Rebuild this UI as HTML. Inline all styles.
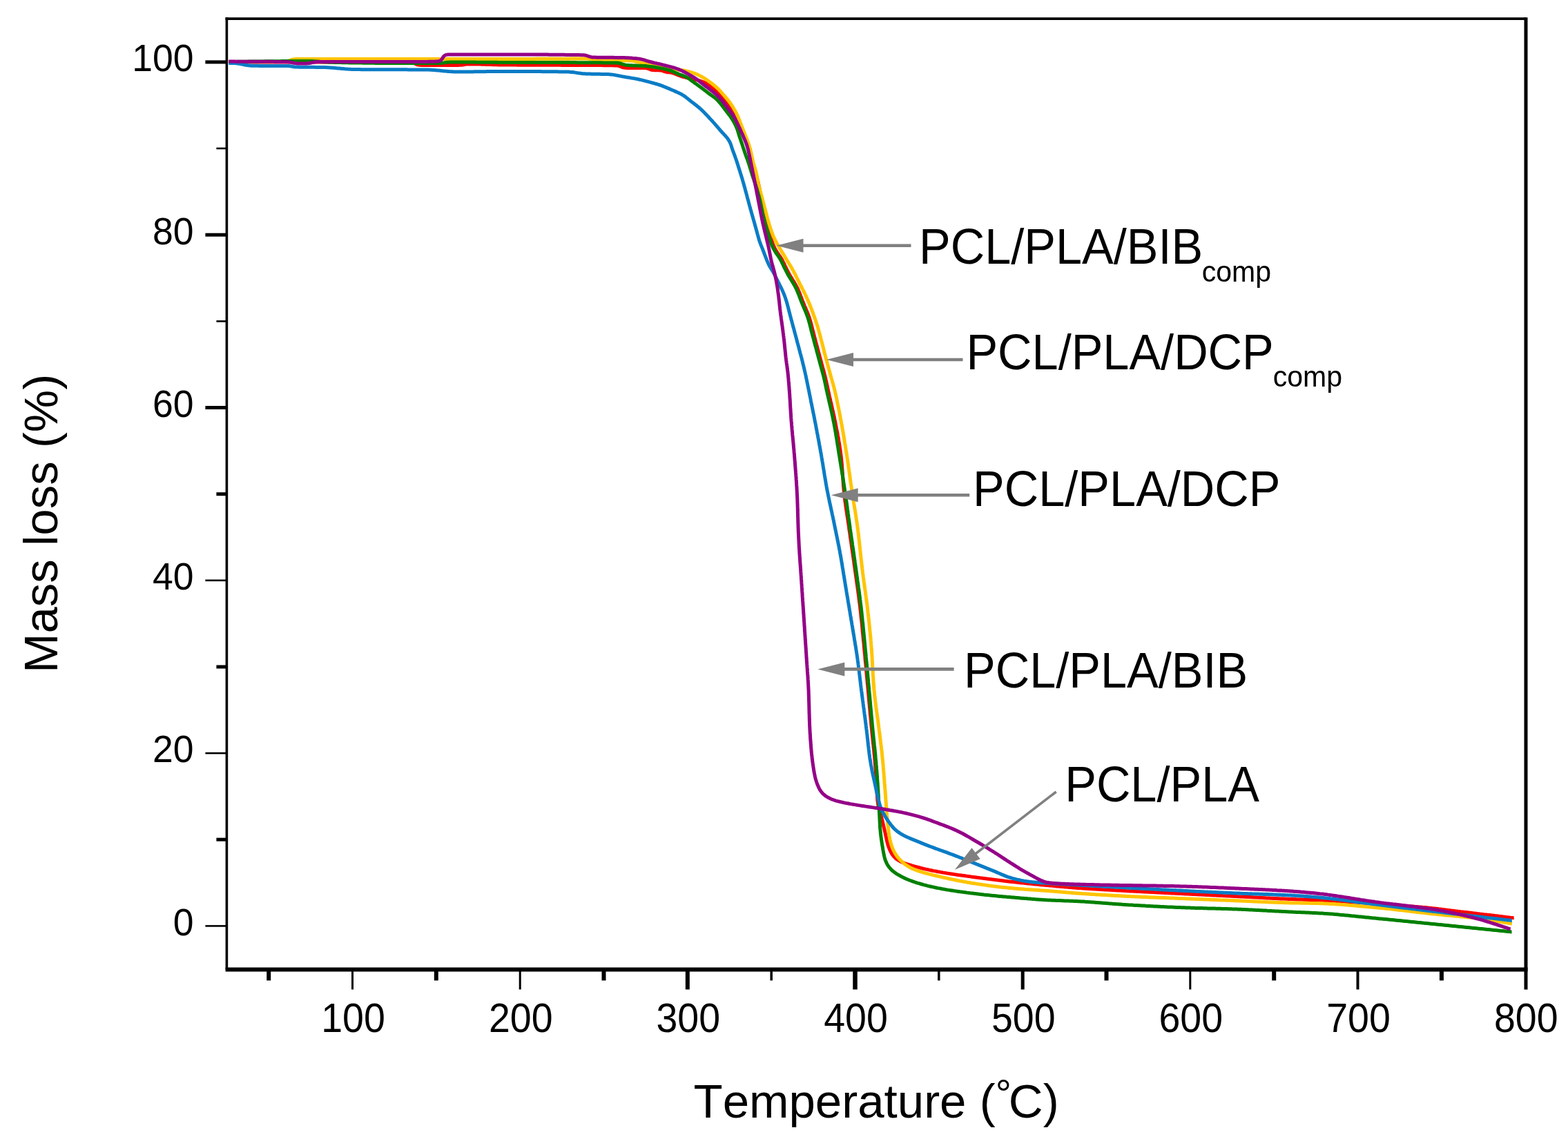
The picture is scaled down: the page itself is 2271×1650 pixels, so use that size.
<!DOCTYPE html>
<html><head><meta charset="utf-8"><title>TGA curves</title>
<style>html,body{margin:0;padding:0;background:#fff;}svg{display:block;} text{font-kerning:none;}</style>
</head><body>
<svg width="2271" height="1650" viewBox="0 0 2271 1650">
<rect x="0" y="0" width="2271" height="1650" fill="#fff"/>
<path d="M331.4,89.8 L332.6,89.8 L334.2,89.8 L336.1,89.8 L338.0,89.8 L340.0,89.8 L342.0,89.8 L344.0,89.8 L346.0,89.8 L348.0,89.8 L350.0,89.8 L352.0,89.8 L354.0,89.9 L356.0,89.9 L358.0,89.9 L360.0,89.9 L362.0,89.9 L364.0,89.9 L366.0,89.9 L368.0,89.9 L370.0,89.9 L372.0,89.9 L374.0,89.9 L376.0,89.9 L378.0,89.9 L380.0,89.9 L382.0,89.9 L384.0,89.9 L386.0,89.9 L388.0,89.9 L390.0,89.9 L392.0,89.9 L394.0,89.9 L396.0,89.9 L398.0,89.9 L400.0,89.9 L402.0,89.9 L404.0,89.9 L406.0,89.9 L408.0,89.9 L410.0,89.9 L412.0,89.9 L414.0,89.9 L416.0,89.9 L418.0,89.9 L420.0,89.9 L422.0,89.9 L424.0,89.9 L426.0,89.9 L428.0,89.9 L430.0,89.9 L432.0,89.9 L434.0,89.9 L436.0,89.9 L438.0,89.9 L440.0,90.0 L442.0,90.0 L444.0,90.0 L446.0,90.0 L448.0,90.0 L450.0,90.0 L452.0,90.0 L454.0,90.0 L456.0,90.0 L458.0,90.0 L460.0,90.0 L462.0,90.0 L464.0,90.0 L466.0,90.0 L468.0,90.0 L470.0,90.0 L472.0,90.0 L474.0,90.0 L476.0,90.0 L478.0,90.0 L480.0,90.0 L482.0,90.0 L484.0,90.0 L486.0,90.0 L488.0,90.0 L490.0,90.0 L492.0,90.0 L494.0,90.0 L496.0,90.0 L498.0,90.0 L500.0,90.0 L502.0,90.0 L504.0,90.0 L506.0,90.1 L508.0,90.1 L510.0,90.1 L512.0,90.1 L514.0,90.1 L516.0,90.1 L518.0,90.1 L520.0,90.1 L522.0,90.1 L524.0,90.1 L526.0,90.1 L528.0,90.1 L530.0,90.1 L532.0,90.1 L534.0,90.1 L536.0,90.1 L538.0,90.2 L540.0,90.2 L542.0,90.2 L544.0,90.2 L546.0,90.2 L548.0,90.2 L550.0,90.2 L552.0,90.2 L554.0,90.2 L556.0,90.2 L558.0,90.2 L560.0,90.2 L562.0,90.3 L564.0,90.3 L566.0,90.3 L568.0,90.3 L570.0,90.3 L572.0,90.3 L574.0,90.3 L576.0,90.3 L578.0,90.3 L580.0,90.4 L582.0,90.4 L584.0,90.4 L586.0,90.4 L588.0,90.4 L590.0,90.4 L592.0,90.4 L594.0,90.5 L595.9,90.6 L597.8,90.9 L599.5,91.5 L601.1,92.2 L602.7,93.0 L604.3,93.7 L606.1,94.1 L608.0,94.3 L609.9,94.4 L611.9,94.4 L613.9,94.4 L615.9,94.4 L617.9,94.4 L619.9,94.4 L621.9,94.4 L623.9,94.4 L625.9,94.4 L627.9,94.4 L629.9,94.4 L631.9,94.4 L633.9,94.4 L635.9,94.4 L637.9,94.4 L639.9,94.4 L641.9,94.4 L643.9,94.4 L645.9,94.4 L647.9,94.4 L649.9,94.4 L651.9,94.4 L653.9,94.4 L655.9,94.4 L657.9,94.4 L659.9,94.4 L661.9,94.4 L663.9,94.4 L665.9,94.3 L667.9,94.2 L669.9,94.0 L671.8,93.7 L673.8,93.4 L675.7,93.1 L677.7,92.9 L679.7,92.9 L681.6,92.9 L683.6,92.9 L685.6,92.9 L687.6,92.9 L689.6,93.0 L691.6,93.0 L693.6,93.1 L695.6,93.1 L697.6,93.2 L699.6,93.2 L701.6,93.3 L703.6,93.4 L705.6,93.4 L707.6,93.5 L709.6,93.5 L711.6,93.6 L713.6,93.7 L715.6,93.7 L717.6,93.8 L719.6,93.8 L721.6,93.9 L723.6,93.9 L725.6,93.9 L727.6,94.0 L729.6,94.0 L731.6,94.0 L733.6,94.0 L735.6,94.1 L737.6,94.1 L739.6,94.1 L741.6,94.1 L743.6,94.1 L745.6,94.1 L747.6,94.1 L749.6,94.2 L751.6,94.2 L753.6,94.2 L755.6,94.2 L757.6,94.2 L759.6,94.2 L761.6,94.2 L763.6,94.2 L765.6,94.2 L767.6,94.2 L769.6,94.3 L771.6,94.3 L773.6,94.3 L775.6,94.3 L777.6,94.3 L779.6,94.3 L781.6,94.3 L783.6,94.3 L785.6,94.3 L787.6,94.3 L789.6,94.3 L791.6,94.3 L793.6,94.3 L795.6,94.3 L797.6,94.3 L799.6,94.3 L801.6,94.3 L803.6,94.3 L805.6,94.3 L807.6,94.3 L809.6,94.3 L811.6,94.3 L813.6,94.4 L815.6,94.4 L817.6,94.4 L819.6,94.4 L821.6,94.4 L823.6,94.4 L825.6,94.4 L827.6,94.4 L829.6,94.4 L831.6,94.4 L833.6,94.4 L835.6,94.4 L837.6,94.4 L839.6,94.4 L841.6,94.4 L843.6,94.4 L845.6,94.5 L847.6,94.5 L849.6,94.5 L851.6,94.5 L853.6,94.5 L855.6,94.5 L857.6,94.5 L859.6,94.5 L861.6,94.6 L863.6,94.6 L865.6,94.6 L867.6,94.6 L869.6,94.6 L871.6,94.6 L873.6,94.7 L875.6,94.7 L877.6,94.7 L879.6,94.7 L881.6,94.8 L883.6,94.8 L885.6,94.8 L887.6,94.8 L889.6,94.9 L891.6,94.9 L893.6,95.0 L895.5,95.3 L897.2,95.8 L898.9,96.4 L900.6,97.2 L902.3,97.8 L904.1,98.1 L906.0,98.3 L908.0,98.4 L910.0,98.4 L912.0,98.4 L914.0,98.4 L916.0,98.4 L918.0,98.4 L920.0,98.4 L922.0,98.4 L924.0,98.4 L926.0,98.4 L928.0,98.4 L930.0,98.4 L932.0,98.4 L933.9,98.5 L935.8,98.7 L937.6,99.0 L939.3,99.6 L941.0,100.3 L942.6,101.0 L944.4,101.4 L946.3,101.6 L948.3,101.7 L950.3,101.7 L952.3,101.7 L954.2,101.7 L956.2,101.9 L958.1,102.1 L959.8,102.6 L961.5,103.3 L963.2,103.9 L965.0,104.4 L966.9,104.7 L968.8,104.8 L970.8,105.0 L972.7,105.3 L974.6,105.8 L976.5,106.5 L978.3,107.2 L980.1,108.0 L982.0,108.8 L983.9,109.5 L985.7,110.2 L987.6,110.8 L989.5,111.4 L991.5,111.9 L993.4,112.4 L995.4,112.8 L997.3,113.3 L999.3,113.7 L1001.2,114.0 L1003.2,114.4 L1005.1,114.9 L1007.1,115.3 L1009.0,115.8 L1011.0,116.3 L1012.9,116.9 L1014.8,117.5 L1016.7,118.1 L1018.6,118.8 L1020.4,119.5 L1022.2,120.3 L1024.0,121.2 L1025.8,122.1 L1027.5,123.2 L1029.1,124.3 L1030.7,125.5 L1032.2,126.8 L1033.8,128.1 L1035.2,129.5 L1036.7,130.8 L1038.1,132.2 L1039.6,133.6 L1041.0,135.0 L1042.4,136.5 L1043.7,137.9 L1045.1,139.4 L1046.4,140.9 L1047.7,142.4 L1049.1,143.9 L1050.4,145.4 L1051.7,146.9 L1053.0,148.4 L1054.3,149.9 L1055.6,151.4 L1056.9,153.0 L1058.1,154.5 L1059.3,156.2 L1060.4,157.8 L1061.5,159.5 L1062.5,161.2 L1063.5,163.0 L1064.4,164.7 L1065.4,166.5 L1066.3,168.3 L1067.2,170.1 L1068.0,171.9 L1068.9,173.7 L1069.7,175.5 L1070.6,177.3 L1071.4,179.1 L1072.3,180.9 L1073.1,182.7 L1073.9,184.6 L1074.7,186.4 L1075.5,188.2 L1076.2,190.1 L1077.0,192.0 L1077.7,193.8 L1078.4,195.7 L1079.1,197.6 L1079.8,199.4 L1080.4,201.3 L1081.0,203.2 L1081.6,205.2 L1082.2,207.1 L1082.8,209.0 L1083.3,210.9 L1083.8,212.8 L1084.4,214.8 L1084.9,216.7 L1085.4,218.6 L1085.9,220.6 L1086.4,222.5 L1086.9,224.4 L1087.4,226.4 L1087.9,228.3 L1088.4,230.2 L1089.0,232.2 L1089.5,234.1 L1090.0,236.0 L1090.6,238.0 L1091.1,239.9 L1091.7,241.8 L1092.3,243.7 L1092.9,245.6 L1093.4,247.5 L1094.0,249.4 L1094.6,251.4 L1095.1,253.3 L1095.7,255.2 L1096.2,257.1 L1096.7,259.1 L1097.2,261.0 L1097.7,262.9 L1098.2,264.9 L1098.6,266.8 L1099.1,268.8 L1099.5,270.8 L1099.9,272.7 L1100.3,274.7 L1100.6,276.6 L1101.0,278.6 L1101.4,280.6 L1101.7,282.5 L1102.1,284.5 L1102.4,286.5 L1102.8,288.4 L1103.2,290.4 L1103.5,292.4 L1103.9,294.3 L1104.2,296.3 L1104.6,298.3 L1105.0,300.2 L1105.4,302.2 L1105.7,304.2 L1106.1,306.1 L1106.6,308.1 L1107.0,310.0 L1107.4,312.0 L1107.9,313.9 L1108.3,315.9 L1108.8,317.8 L1109.3,319.8 L1109.8,321.7 L1110.3,323.6 L1110.8,325.6 L1111.4,327.5 L1111.9,329.4 L1112.5,331.3 L1113.1,333.2 L1113.7,335.1 L1114.3,337.1 L1114.8,339.0 L1115.4,340.9 L1116.0,342.8 L1116.5,344.7 L1117.1,346.7 L1117.7,348.6 L1118.3,350.5 L1119.0,352.3 L1119.7,354.2 L1120.5,356.0 L1121.3,357.9 L1122.2,359.6 L1123.1,361.4 L1124.1,363.1 L1125.2,364.9 L1126.2,366.5 L1127.4,368.2 L1128.5,369.8 L1129.7,371.4 L1130.8,373.1 L1131.8,374.8 L1132.8,376.5 L1133.7,378.3 L1134.6,380.1 L1135.5,381.9 L1136.4,383.7 L1137.2,385.5 L1138.1,387.3 L1139.0,389.1 L1139.9,390.9 L1140.7,392.7 L1141.7,394.5 L1142.6,396.2 L1143.6,398.0 L1144.6,399.7 L1145.6,401.4 L1146.7,403.1 L1147.7,404.8 L1148.8,406.5 L1149.8,408.2 L1150.9,409.9 L1151.9,411.7 L1152.8,413.4 L1153.8,415.2 L1154.7,416.9 L1155.6,418.7 L1156.4,420.6 L1157.2,422.4 L1157.9,424.2 L1158.7,426.1 L1159.4,428.0 L1160.1,429.8 L1160.8,431.7 L1161.5,433.6 L1162.2,435.4 L1163.0,437.3 L1163.7,439.2 L1164.5,441.0 L1165.2,442.9 L1166.0,444.7 L1166.8,446.5 L1167.6,448.4 L1168.4,450.2 L1169.1,452.1 L1169.9,453.9 L1170.6,455.8 L1171.3,457.7 L1172.0,459.6 L1172.6,461.5 L1173.2,463.4 L1173.7,465.3 L1174.3,467.2 L1174.8,469.1 L1175.3,471.1 L1175.8,473.0 L1176.3,474.9 L1176.8,476.9 L1177.3,478.8 L1177.8,480.8 L1178.3,482.7 L1178.8,484.6 L1179.3,486.6 L1179.8,488.5 L1180.3,490.4 L1180.8,492.4 L1181.3,494.3 L1181.8,496.2 L1182.4,498.2 L1182.9,500.1 L1183.4,502.0 L1183.9,504.0 L1184.4,505.9 L1184.9,507.8 L1185.5,509.8 L1186.0,511.7 L1186.5,513.6 L1187.0,515.6 L1187.5,517.5 L1188.1,519.4 L1188.6,521.3 L1189.1,523.3 L1189.6,525.2 L1190.1,527.1 L1190.7,529.1 L1191.2,531.0 L1191.7,532.9 L1192.3,534.9 L1192.8,536.8 L1193.3,538.7 L1193.8,540.6 L1194.3,542.6 L1194.8,544.5 L1195.3,546.5 L1195.8,548.4 L1196.2,550.3 L1196.7,552.3 L1197.1,554.3 L1197.5,556.2 L1197.9,558.2 L1198.4,560.1 L1198.8,562.1 L1199.2,564.0 L1199.6,566.0 L1200.0,567.9 L1200.5,569.9 L1200.9,571.9 L1201.3,573.8 L1201.8,575.8 L1202.2,577.7 L1202.7,579.7 L1203.1,581.6 L1203.6,583.5 L1204.0,585.5 L1204.5,587.4 L1204.9,589.4 L1205.4,591.3 L1205.8,593.3 L1206.3,595.2 L1206.7,597.2 L1207.1,599.1 L1207.6,601.1 L1208.0,603.1 L1208.4,605.0 L1208.8,607.0 L1209.2,608.9 L1209.6,610.9 L1210.0,612.9 L1210.4,614.8 L1210.7,616.8 L1211.1,618.7 L1211.5,620.7 L1211.9,622.7 L1212.3,624.6 L1212.7,626.6 L1213.1,628.6 L1213.4,630.5 L1213.8,632.5 L1214.2,634.5 L1214.5,636.4 L1214.8,638.4 L1215.2,640.4 L1215.5,642.3 L1215.8,644.3 L1216.1,646.3 L1216.4,648.3 L1216.7,650.2 L1217.0,652.2 L1217.3,654.2 L1217.5,656.2 L1217.8,658.2 L1218.0,660.2 L1218.3,662.1 L1218.5,664.1 L1218.7,666.1 L1218.9,668.1 L1219.1,670.1 L1219.3,672.1 L1219.5,674.1 L1219.6,676.1 L1219.8,678.1 L1219.9,680.1 L1220.0,682.1 L1220.2,684.1 L1220.3,686.1 L1220.5,688.0 L1220.6,690.0 L1220.7,692.0 L1220.9,694.0 L1221.0,696.0 L1221.1,698.0 L1221.3,700.0 L1221.4,702.0 L1221.6,704.0 L1221.8,706.0 L1221.9,708.0 L1222.1,710.0 L1222.3,712.0 L1222.5,714.0 L1222.7,715.9 L1223.0,717.9 L1223.2,719.9 L1223.4,721.9 L1223.7,723.9 L1223.9,725.9 L1224.2,727.9 L1224.5,729.8 L1224.7,731.8 L1225.0,733.8 L1225.3,735.8 L1225.6,737.8 L1225.9,739.7 L1226.2,741.7 L1226.5,743.7 L1226.8,745.7 L1227.1,747.7 L1227.4,749.6 L1227.7,751.6 L1228.0,753.6 L1228.3,755.6 L1228.6,757.5 L1228.9,759.5 L1229.2,761.5 L1229.5,763.5 L1229.7,765.5 L1230.0,767.4 L1230.3,769.4 L1230.6,771.4 L1230.9,773.4 L1231.2,775.4 L1231.4,777.3 L1231.7,779.3 L1232.0,781.3 L1232.3,783.3 L1232.6,785.3 L1232.9,787.2 L1233.2,789.2 L1233.4,791.2 L1233.7,793.2 L1234.0,795.1 L1234.3,797.1 L1234.6,799.1 L1234.9,801.1 L1235.2,803.1 L1235.4,805.0 L1235.7,807.0 L1236.0,809.0 L1236.3,811.0 L1236.6,813.0 L1236.9,814.9 L1237.1,816.9 L1237.4,818.9 L1237.7,820.9 L1238.0,822.9 L1238.2,824.8 L1238.5,826.8 L1238.8,828.8 L1239.1,830.8 L1239.3,832.8 L1239.6,834.8 L1239.9,836.7 L1240.2,838.7 L1240.5,840.7 L1240.7,842.7 L1241.0,844.7 L1241.3,846.6 L1241.6,848.6 L1241.9,850.6 L1242.1,852.6 L1242.4,854.6 L1242.7,856.5 L1242.9,858.5 L1243.2,860.5 L1243.5,862.5 L1243.7,864.5 L1244.0,866.5 L1244.2,868.4 L1244.5,870.4 L1244.7,872.4 L1245.0,874.4 L1245.2,876.4 L1245.5,878.4 L1245.7,880.3 L1245.9,882.3 L1246.2,884.3 L1246.4,886.3 L1246.6,888.3 L1246.8,890.3 L1247.0,892.3 L1247.2,894.3 L1247.5,896.3 L1247.7,898.2 L1247.9,900.2 L1248.1,902.2 L1248.3,904.2 L1248.5,906.2 L1248.7,908.2 L1248.9,910.2 L1249.0,912.2 L1249.2,914.2 L1249.4,916.2 L1249.6,918.1 L1249.8,920.1 L1250.0,922.1 L1250.2,924.1 L1250.4,926.1 L1250.6,928.1 L1250.8,930.1 L1251.0,932.1 L1251.2,934.1 L1251.3,936.1 L1251.5,938.1 L1251.7,940.0 L1251.9,942.0 L1252.1,944.0 L1252.3,946.0 L1252.5,948.0 L1252.7,950.0 L1252.9,952.0 L1253.0,954.0 L1253.2,956.0 L1253.4,958.0 L1253.6,960.0 L1253.8,961.9 L1254.0,963.9 L1254.2,965.9 L1254.3,967.9 L1254.5,969.9 L1254.7,971.9 L1254.9,973.9 L1255.1,975.9 L1255.2,977.9 L1255.4,979.9 L1255.6,981.9 L1255.8,983.9 L1256.0,985.8 L1256.2,987.8 L1256.3,989.8 L1256.5,991.8 L1256.7,993.8 L1256.9,995.8 L1257.1,997.8 L1257.3,999.8 L1257.4,1001.8 L1257.6,1003.8 L1257.8,1005.8 L1258.0,1007.8 L1258.2,1009.7 L1258.3,1011.7 L1258.5,1013.7 L1258.7,1015.7 L1258.9,1017.7 L1259.1,1019.7 L1259.3,1021.7 L1259.4,1023.7 L1259.6,1025.7 L1259.8,1027.7 L1260.0,1029.7 L1260.2,1031.7 L1260.3,1033.6 L1260.5,1035.6 L1260.7,1037.6 L1260.9,1039.6 L1261.1,1041.6 L1261.3,1043.6 L1261.5,1045.6 L1261.6,1047.6 L1261.8,1049.6 L1262.0,1051.6 L1262.2,1053.6 L1262.4,1055.6 L1262.6,1057.5 L1262.8,1059.5 L1263.0,1061.5 L1263.2,1063.5 L1263.4,1065.5 L1263.6,1067.5 L1263.8,1069.5 L1264.0,1071.5 L1264.2,1073.5 L1264.4,1075.4 L1264.6,1077.4 L1264.9,1079.4 L1265.1,1081.4 L1265.3,1083.4 L1265.5,1085.4 L1265.7,1087.4 L1265.9,1089.4 L1266.1,1091.4 L1266.3,1093.4 L1266.5,1095.3 L1266.7,1097.3 L1266.8,1099.3 L1267.0,1101.3 L1267.2,1103.3 L1267.4,1105.3 L1267.5,1107.3 L1267.7,1109.3 L1267.8,1111.3 L1268.0,1113.3 L1268.1,1115.3 L1268.3,1117.3 L1268.4,1119.3 L1268.5,1121.3 L1268.6,1123.3 L1268.8,1125.3 L1268.9,1127.3 L1269.0,1129.2 L1269.1,1131.2 L1269.2,1133.2 L1269.3,1135.2 L1269.4,1137.2 L1269.6,1139.2 L1269.7,1141.2 L1269.8,1143.2 L1269.9,1145.2 L1270.0,1147.2 L1270.2,1149.2 L1270.3,1151.2 L1270.4,1153.2 L1270.6,1155.2 L1270.7,1157.2 L1270.9,1159.2 L1271.1,1161.2 L1271.4,1163.2 L1271.7,1165.1 L1272.0,1167.1 L1272.4,1169.1 L1272.9,1171.0 L1273.4,1172.9 L1273.9,1174.9 L1274.5,1176.8 L1275.1,1178.7 L1275.7,1180.6 L1276.3,1182.5 L1276.8,1184.4 L1277.3,1186.4 L1277.8,1188.3 L1278.3,1190.2 L1278.7,1192.2 L1279.2,1194.1 L1279.6,1196.1 L1280.1,1198.0 L1280.5,1200.0 L1281.0,1201.9 L1281.4,1203.9 L1281.9,1205.8 L1282.3,1207.8 L1282.7,1209.7 L1283.1,1211.7 L1283.6,1213.7 L1284.0,1215.6 L1284.4,1217.6 L1284.9,1219.5 L1285.4,1221.4 L1285.9,1223.4 L1286.5,1225.3 L1287.2,1227.2 L1287.8,1229.0 L1288.6,1230.9 L1289.4,1232.7 L1290.3,1234.5 L1291.3,1236.2 L1292.4,1237.9 L1293.6,1239.5 L1294.9,1241.0 L1296.2,1242.4 L1297.7,1243.8 L1299.2,1245.0 L1300.9,1246.1 L1302.6,1247.1 L1304.4,1248.1 L1306.2,1248.9 L1308.0,1249.7 L1309.9,1250.4 L1311.8,1251.1 L1313.6,1251.7 L1315.6,1252.3 L1317.5,1252.9 L1319.4,1253.5 L1321.3,1254.1 L1323.2,1254.6 L1325.1,1255.2 L1327.1,1255.7 L1329.0,1256.2 L1330.9,1256.7 L1332.9,1257.2 L1334.8,1257.7 L1336.8,1258.2 L1338.7,1258.6 L1340.7,1259.1 L1342.6,1259.5 L1344.6,1259.9 L1346.5,1260.4 L1348.5,1260.8 L1350.4,1261.2 L1352.4,1261.6 L1354.4,1261.9 L1356.3,1262.3 L1358.3,1262.7 L1360.3,1263.0 L1362.2,1263.4 L1364.2,1263.7 L1366.2,1264.1 L1368.1,1264.4 L1370.1,1264.8 L1372.1,1265.1 L1374.1,1265.4 L1376.0,1265.7 L1378.0,1266.0 L1380.0,1266.3 L1382.0,1266.6 L1383.9,1266.9 L1385.9,1267.2 L1387.9,1267.5 L1389.9,1267.7 L1391.9,1268.0 L1393.8,1268.3 L1395.8,1268.6 L1397.8,1268.8 L1399.8,1269.1 L1401.8,1269.4 L1403.8,1269.6 L1405.7,1269.9 L1407.7,1270.2 L1409.7,1270.4 L1411.7,1270.7 L1413.7,1271.0 L1415.6,1271.3 L1417.6,1271.5 L1419.6,1271.8 L1421.6,1272.0 L1423.6,1272.3 L1425.6,1272.6 L1427.5,1272.8 L1429.5,1273.1 L1431.5,1273.3 L1433.5,1273.6 L1435.5,1273.8 L1437.5,1274.1 L1439.4,1274.3 L1441.4,1274.6 L1443.4,1274.8 L1445.4,1275.1 L1447.4,1275.3 L1449.4,1275.6 L1451.4,1275.8 L1453.3,1276.0 L1455.3,1276.3 L1457.3,1276.5 L1459.3,1276.7 L1461.3,1277.0 L1463.3,1277.2 L1465.3,1277.4 L1467.2,1277.6 L1469.2,1277.8 L1471.2,1278.1 L1473.2,1278.3 L1475.2,1278.5 L1477.2,1278.7 L1479.2,1278.9 L1481.2,1279.1 L1483.2,1279.3 L1485.1,1279.5 L1487.1,1279.7 L1489.1,1279.9 L1491.1,1280.1 L1493.1,1280.3 L1495.1,1280.5 L1497.1,1280.7 L1499.1,1280.9 L1501.1,1281.1 L1503.1,1281.3 L1505.1,1281.5 L1507.0,1281.7 L1509.0,1281.9 L1511.0,1282.0 L1513.0,1282.2 L1515.0,1282.4 L1517.0,1282.6 L1519.0,1282.8 L1521.0,1283.0 L1523.0,1283.1 L1525.0,1283.3 L1527.0,1283.5 L1528.9,1283.7 L1530.9,1283.9 L1532.9,1284.1 L1534.9,1284.2 L1536.9,1284.4 L1538.9,1284.6 L1540.9,1284.8 L1542.9,1284.9 L1544.9,1285.1 L1546.9,1285.3 L1548.9,1285.4 L1550.9,1285.6 L1552.9,1285.8 L1554.9,1285.9 L1556.8,1286.1 L1558.8,1286.2 L1560.8,1286.4 L1562.8,1286.5 L1564.8,1286.6 L1566.8,1286.8 L1568.8,1286.9 L1570.8,1287.0 L1572.8,1287.2 L1574.8,1287.3 L1576.8,1287.4 L1578.8,1287.6 L1580.8,1287.7 L1582.8,1287.8 L1584.8,1287.9 L1586.8,1288.1 L1588.8,1288.2 L1590.8,1288.3 L1592.8,1288.4 L1594.8,1288.5 L1596.8,1288.7 L1598.8,1288.8 L1600.8,1288.9 L1602.8,1289.0 L1604.8,1289.1 L1606.7,1289.2 L1608.7,1289.3 L1610.7,1289.5 L1612.7,1289.6 L1614.7,1289.7 L1616.7,1289.8 L1618.7,1289.9 L1620.7,1290.0 L1622.7,1290.1 L1624.7,1290.2 L1626.7,1290.3 L1628.7,1290.4 L1630.7,1290.6 L1632.7,1290.7 L1634.7,1290.8 L1636.7,1290.9 L1638.7,1291.0 L1640.7,1291.1 L1642.7,1291.2 L1644.7,1291.3 L1646.7,1291.4 L1648.7,1291.5 L1650.7,1291.6 L1652.7,1291.7 L1654.7,1291.8 L1656.7,1291.9 L1658.7,1292.0 L1660.7,1292.1 L1662.7,1292.2 L1664.7,1292.3 L1666.7,1292.4 L1668.7,1292.5 L1670.7,1292.6 L1672.7,1292.7 L1674.7,1292.8 L1676.6,1292.9 L1678.6,1293.0 L1680.6,1293.1 L1682.6,1293.2 L1684.6,1293.3 L1686.6,1293.4 L1688.6,1293.5 L1690.6,1293.6 L1692.6,1293.7 L1694.6,1293.8 L1696.6,1293.9 L1698.6,1294.0 L1700.6,1294.1 L1702.6,1294.2 L1704.6,1294.3 L1706.6,1294.4 L1708.6,1294.5 L1710.6,1294.6 L1712.6,1294.7 L1714.6,1294.8 L1716.6,1294.9 L1718.6,1295.0 L1720.6,1295.1 L1722.6,1295.2 L1724.6,1295.3 L1726.6,1295.4 L1728.6,1295.5 L1730.6,1295.6 L1732.6,1295.7 L1734.6,1295.8 L1736.6,1295.9 L1738.6,1296.0 L1740.6,1296.1 L1742.6,1296.2 L1744.6,1296.3 L1746.6,1296.4 L1748.6,1296.5 L1750.6,1296.6 L1752.6,1296.7 L1754.6,1296.8 L1756.6,1296.9 L1758.5,1297.0 L1760.5,1297.1 L1762.5,1297.2 L1764.5,1297.3 L1766.5,1297.4 L1768.5,1297.5 L1770.5,1297.6 L1772.5,1297.7 L1774.5,1297.8 L1776.5,1297.9 L1778.5,1298.0 L1780.5,1298.1 L1782.5,1298.2 L1784.5,1298.3 L1786.5,1298.4 L1788.5,1298.5 L1790.5,1298.6 L1792.5,1298.7 L1794.5,1298.8 L1796.5,1298.9 L1798.5,1299.0 L1800.5,1299.1 L1802.5,1299.2 L1804.5,1299.3 L1806.5,1299.4 L1808.5,1299.5 L1810.5,1299.6 L1812.5,1299.7 L1814.5,1299.8 L1816.5,1299.9 L1818.5,1300.0 L1820.5,1300.1 L1822.5,1300.2 L1824.5,1300.3 L1826.5,1300.4 L1828.5,1300.5 L1830.5,1300.7 L1832.5,1300.8 L1834.5,1300.9 L1836.4,1301.0 L1838.4,1301.1 L1840.4,1301.2 L1842.4,1301.3 L1844.4,1301.4 L1846.4,1301.5 L1848.4,1301.6 L1850.4,1301.7 L1852.4,1301.8 L1854.4,1301.9 L1856.4,1302.0 L1858.4,1302.1 L1860.4,1302.1 L1862.4,1302.2 L1864.4,1302.3 L1866.4,1302.4 L1868.4,1302.5 L1870.4,1302.6 L1872.4,1302.6 L1874.4,1302.7 L1876.4,1302.8 L1878.4,1302.9 L1880.4,1302.9 L1882.4,1303.0 L1884.4,1303.1 L1886.4,1303.1 L1888.4,1303.2 L1890.4,1303.3 L1892.4,1303.3 L1894.4,1303.4 L1896.4,1303.5 L1898.4,1303.5 L1900.4,1303.6 L1902.4,1303.7 L1904.4,1303.8 L1906.4,1303.9 L1908.4,1303.9 L1910.4,1304.0 L1912.4,1304.1 L1914.4,1304.2 L1916.4,1304.3 L1918.4,1304.4 L1920.4,1304.5 L1922.4,1304.6 L1924.4,1304.7 L1926.4,1304.8 L1928.4,1304.9 L1930.4,1305.0 L1932.4,1305.1 L1934.4,1305.3 L1936.3,1305.4 L1938.3,1305.5 L1940.3,1305.6 L1942.3,1305.7 L1944.3,1305.9 L1946.3,1306.0 L1948.3,1306.1 L1950.3,1306.2 L1952.3,1306.4 L1954.3,1306.5 L1956.3,1306.6 L1958.3,1306.8 L1960.3,1306.9 L1962.3,1307.0 L1964.3,1307.2 L1966.3,1307.3 L1968.3,1307.4 L1970.3,1307.6 L1972.3,1307.7 L1974.3,1307.8 L1976.3,1308.0 L1978.3,1308.1 L1980.3,1308.3 L1982.2,1308.4 L1984.2,1308.5 L1986.2,1308.7 L1988.2,1308.8 L1990.2,1308.9 L1992.2,1309.1 L1994.2,1309.2 L1996.2,1309.4 L1998.2,1309.5 L2000.2,1309.6 L2002.2,1309.8 L2004.2,1309.9 L2006.2,1310.0 L2008.2,1310.2 L2010.2,1310.3 L2012.2,1310.5 L2014.2,1310.6 L2016.2,1310.8 L2018.2,1310.9 L2020.2,1311.0 L2022.2,1311.2 L2024.1,1311.3 L2026.1,1311.5 L2028.1,1311.6 L2030.1,1311.8 L2032.1,1311.9 L2034.1,1312.1 L2036.1,1312.2 L2038.1,1312.4 L2040.1,1312.6 L2042.1,1312.7 L2044.1,1312.9 L2046.1,1313.0 L2048.1,1313.2 L2050.1,1313.4 L2052.1,1313.5 L2054.0,1313.7 L2056.0,1313.9 L2058.0,1314.1 L2060.0,1314.3 L2062.0,1314.4 L2064.0,1314.6 L2066.0,1314.8 L2068.0,1315.0 L2070.0,1315.2 L2072.0,1315.4 L2074.0,1315.6 L2075.9,1315.9 L2077.9,1316.1 L2079.9,1316.3 L2081.9,1316.5 L2083.9,1316.8 L2085.9,1317.0 L2087.9,1317.2 L2089.9,1317.5 L2091.8,1317.7 L2093.8,1318.0 L2095.8,1318.2 L2097.8,1318.5 L2099.8,1318.7 L2101.8,1319.0 L2103.7,1319.2 L2105.7,1319.4 L2107.7,1319.7 L2109.7,1319.9 L2111.7,1320.2 L2113.7,1320.4 L2115.7,1320.7 L2117.6,1320.9 L2119.6,1321.1 L2121.6,1321.4 L2123.6,1321.6 L2125.6,1321.8 L2127.6,1322.1 L2129.6,1322.3 L2131.5,1322.5 L2133.5,1322.8 L2135.5,1323.0 L2137.5,1323.2 L2139.5,1323.5 L2141.5,1323.7 L2143.5,1324.0 L2145.4,1324.2 L2147.4,1324.4 L2149.4,1324.7 L2151.4,1324.9 L2153.4,1325.1 L2155.4,1325.4 L2157.4,1325.6 L2159.3,1325.8 L2161.3,1326.1 L2163.3,1326.3 L2165.3,1326.6 L2167.3,1326.8 L2169.3,1327.0 L2171.3,1327.3 L2173.2,1327.5 L2175.2,1327.7 L2177.2,1328.0 L2179.2,1328.2 L2181.2,1328.5 L2183.2,1328.7 L2185.2,1328.9 L2187.1,1329.2 L2189.0,1329.4 L2190.8,1329.6 L2192.2,1329.8 L2192.7,1329.8" fill="none" stroke="#ff0000" stroke-width="5.0" stroke-linejoin="round" stroke-linecap="butt"/>
<path d="M331.4,89.5 L332.6,89.5 L334.2,89.5 L336.1,89.5 L338.0,89.5 L340.0,89.5 L342.0,89.5 L344.0,89.5 L346.0,89.5 L348.0,89.5 L350.0,89.5 L352.0,89.5 L354.0,89.5 L356.0,89.5 L358.0,89.5 L360.0,89.5 L362.0,89.5 L364.0,89.5 L366.0,89.5 L368.0,89.5 L370.0,89.5 L372.0,89.5 L374.0,89.5 L376.0,89.5 L378.0,89.5 L380.0,89.5 L382.0,89.5 L384.0,89.5 L386.0,89.5 L388.0,89.5 L390.0,89.5 L392.0,89.5 L394.0,89.5 L396.0,89.5 L398.0,89.5 L400.0,89.5 L402.0,89.5 L404.0,89.5 L406.0,89.5 L408.0,89.5 L410.0,89.5 L412.0,89.5 L413.9,89.4 L415.8,89.1 L417.6,88.6 L419.3,87.9 L420.9,87.1 L422.6,86.4 L424.4,85.9 L426.3,85.7 L428.3,85.6 L430.3,85.6 L432.3,85.6 L434.3,85.6 L436.3,85.6 L438.3,85.6 L440.3,85.6 L442.3,85.6 L444.3,85.6 L446.3,85.6 L448.3,85.6 L450.3,85.6 L452.3,85.6 L454.3,85.6 L456.3,85.6 L458.3,85.6 L460.3,85.6 L462.3,85.6 L464.3,85.6 L466.3,85.6 L468.3,85.6 L470.3,85.6 L472.3,85.6 L474.3,85.6 L476.3,85.6 L478.3,85.6 L480.3,85.6 L482.3,85.6 L484.3,85.6 L486.3,85.6 L488.3,85.6 L490.3,85.6 L492.3,85.6 L494.3,85.6 L496.3,85.6 L498.3,85.6 L500.3,85.6 L502.3,85.6 L504.3,85.6 L506.3,85.6 L508.3,85.6 L510.3,85.6 L512.3,85.6 L514.3,85.6 L516.3,85.6 L518.3,85.6 L520.3,85.6 L522.3,85.6 L524.3,85.6 L526.3,85.6 L528.3,85.6 L530.3,85.6 L532.3,85.6 L534.3,85.6 L536.3,85.6 L538.3,85.6 L540.3,85.6 L542.3,85.6 L544.3,85.6 L546.3,85.6 L548.3,85.6 L550.3,85.6 L552.3,85.6 L554.3,85.6 L556.3,85.6 L558.3,85.6 L560.3,85.6 L562.3,85.6 L564.3,85.6 L566.3,85.6 L568.3,85.6 L570.3,85.6 L572.3,85.6 L574.3,85.6 L576.3,85.6 L578.3,85.6 L580.3,85.6 L582.3,85.6 L584.3,85.6 L586.3,85.6 L588.3,85.6 L590.3,85.6 L592.3,85.6 L594.3,85.6 L596.3,85.6 L598.3,85.6 L600.3,85.6 L602.3,85.6 L604.3,85.6 L606.3,85.6 L608.3,85.6 L610.3,85.6 L612.3,85.6 L614.3,85.6 L616.3,85.6 L618.3,85.6 L620.3,85.6 L622.3,85.6 L624.3,85.6 L626.3,85.6 L628.3,85.6 L630.3,85.6 L632.3,85.6 L634.3,85.6 L636.3,85.6 L638.3,85.6 L640.3,85.6 L642.3,85.6 L644.3,85.6 L646.3,85.6 L648.3,85.6 L650.3,85.6 L652.3,85.6 L654.3,85.6 L656.3,85.6 L658.3,85.6 L660.3,85.6 L662.3,85.6 L664.3,85.6 L666.3,85.6 L668.3,85.6 L670.3,85.6 L672.3,85.6 L674.3,85.6 L676.3,85.6 L678.3,85.6 L680.3,85.6 L682.3,85.6 L684.3,85.6 L686.3,85.6 L688.3,85.6 L690.3,85.6 L692.3,85.6 L694.3,85.6 L696.3,85.6 L698.3,85.5 L700.3,85.5 L702.3,85.5 L704.3,85.5 L706.3,85.5 L708.3,85.5 L710.3,85.5 L712.3,85.5 L714.3,85.5 L716.3,85.5 L718.3,85.5 L720.3,85.5 L722.3,85.5 L724.3,85.5 L726.3,85.5 L728.3,85.5 L730.3,85.5 L732.3,85.5 L734.3,85.5 L736.3,85.5 L738.3,85.5 L740.3,85.5 L742.3,85.5 L744.3,85.5 L746.3,85.5 L748.3,85.5 L750.3,85.4 L752.3,85.4 L754.3,85.4 L756.3,85.4 L758.3,85.4 L760.3,85.4 L762.3,85.4 L764.3,85.4 L766.3,85.4 L768.3,85.4 L770.3,85.4 L772.3,85.4 L774.3,85.4 L776.3,85.3 L778.3,85.3 L780.3,85.3 L782.3,85.3 L784.3,85.3 L786.3,85.3 L788.3,85.3 L790.3,85.3 L792.3,85.3 L794.3,85.3 L796.3,85.3 L798.3,85.3 L800.3,85.2 L802.3,85.2 L804.3,85.2 L806.3,85.2 L808.3,85.2 L810.3,85.2 L812.3,85.2 L814.3,85.2 L816.3,85.2 L818.3,85.2 L820.3,85.2 L822.3,85.2 L824.3,85.2 L826.3,85.1 L828.3,85.1 L830.3,85.1 L832.3,85.1 L834.3,85.1 L836.3,85.1 L838.3,85.1 L840.3,85.1 L842.3,85.1 L844.3,85.1 L846.3,85.1 L848.3,85.1 L850.2,85.1 L852.2,85.2 L854.2,85.4 L856.1,85.7 L858.0,86.2 L859.9,86.7 L861.7,87.2 L863.7,87.5 L865.6,87.7 L867.6,87.8 L869.6,87.8 L871.6,87.8 L873.6,87.8 L875.6,87.8 L877.6,87.8 L879.6,87.8 L881.6,87.8 L883.6,87.8 L885.6,87.8 L887.6,87.8 L889.6,87.8 L891.6,87.8 L893.6,87.8 L895.6,87.8 L897.6,87.8 L899.6,87.8 L901.6,87.8 L903.6,87.8 L905.6,87.8 L907.6,87.8 L909.6,87.8 L911.6,87.9 L913.6,88.0 L915.6,88.1 L917.6,88.4 L919.5,88.8 L921.5,89.2 L923.4,89.6 L925.4,90.1 L927.3,90.6 L929.3,91.0 L931.2,91.4 L933.2,91.8 L935.2,92.1 L937.1,92.4 L939.1,92.6 L941.1,92.9 L943.1,93.1 L945.1,93.4 L947.1,93.6 L949.0,93.9 L951.0,94.1 L953.0,94.4 L955.0,94.7 L957.0,95.0 L958.9,95.4 L960.9,95.8 L962.8,96.3 L964.8,96.8 L966.7,97.3 L968.6,97.9 L970.5,98.5 L972.4,99.1 L974.3,99.7 L976.3,100.1 L978.2,100.6 L980.2,100.9 L982.1,101.2 L984.1,101.4 L986.1,101.6 L988.1,101.8 L990.1,102.0 L992.1,102.4 L994.0,102.8 L995.9,103.3 L997.9,103.8 L999.8,104.4 L1001.7,105.0 L1003.6,105.6 L1005.5,106.2 L1007.4,106.9 L1009.2,107.6 L1011.0,108.4 L1012.8,109.3 L1014.6,110.2 L1016.4,111.2 L1018.1,112.2 L1019.8,113.2 L1021.5,114.3 L1023.2,115.4 L1024.8,116.5 L1026.4,117.7 L1028.1,118.9 L1029.7,120.0 L1031.3,121.2 L1032.9,122.5 L1034.4,123.7 L1036.0,125.0 L1037.5,126.3 L1038.9,127.6 L1040.4,129.0 L1041.8,130.5 L1043.1,131.9 L1044.5,133.4 L1045.8,134.9 L1047.1,136.4 L1048.4,137.9 L1049.7,139.4 L1051.0,140.9 L1052.3,142.5 L1053.6,144.0 L1054.8,145.6 L1056.1,147.2 L1057.3,148.8 L1058.4,150.4 L1059.5,152.1 L1060.6,153.7 L1061.7,155.4 L1062.7,157.1 L1063.7,158.9 L1064.7,160.6 L1065.7,162.4 L1066.6,164.1 L1067.4,165.9 L1068.3,167.8 L1069.1,169.6 L1069.8,171.4 L1070.6,173.3 L1071.3,175.2 L1072.0,177.0 L1072.8,178.9 L1073.5,180.8 L1074.2,182.6 L1074.9,184.5 L1075.7,186.3 L1076.4,188.2 L1077.1,190.1 L1077.9,191.9 L1078.6,193.8 L1079.3,195.6 L1080.0,197.5 L1080.8,199.4 L1081.5,201.2 L1082.2,203.1 L1082.9,205.0 L1083.6,206.9 L1084.3,208.7 L1084.9,210.6 L1085.5,212.5 L1086.1,214.4 L1086.7,216.4 L1087.1,218.3 L1087.6,220.3 L1088.0,222.2 L1088.4,224.2 L1088.9,226.1 L1089.3,228.1 L1089.7,230.0 L1090.1,232.0 L1090.6,233.9 L1091.1,235.9 L1091.7,237.8 L1092.2,239.7 L1092.8,241.6 L1093.4,243.5 L1093.9,245.4 L1094.5,247.4 L1095.0,249.3 L1095.4,251.3 L1095.9,253.2 L1096.3,255.2 L1096.6,257.1 L1097.0,259.1 L1097.4,261.1 L1097.8,263.0 L1098.2,265.0 L1098.6,266.9 L1099.0,268.9 L1099.5,270.8 L1100.0,272.8 L1100.5,274.7 L1101.0,276.6 L1101.5,278.6 L1102.1,280.5 L1102.6,282.4 L1103.1,284.3 L1103.7,286.3 L1104.2,288.2 L1104.7,290.1 L1105.2,292.1 L1105.7,294.0 L1106.2,295.9 L1106.7,297.9 L1107.2,299.8 L1107.7,301.7 L1108.3,303.7 L1108.8,305.6 L1109.3,307.5 L1109.8,309.5 L1110.3,311.4 L1110.8,313.4 L1111.3,315.3 L1111.8,317.2 L1112.4,319.1 L1112.9,321.1 L1113.5,323.0 L1114.0,324.9 L1114.6,326.8 L1115.2,328.7 L1115.8,330.6 L1116.5,332.5 L1117.1,334.4 L1117.8,336.3 L1118.5,338.2 L1119.2,340.0 L1119.9,341.9 L1120.7,343.7 L1121.6,345.5 L1122.5,347.3 L1123.4,349.1 L1124.3,350.9 L1125.2,352.6 L1126.2,354.4 L1127.2,356.1 L1128.2,357.8 L1129.3,359.6 L1130.3,361.3 L1131.4,363.0 L1132.4,364.7 L1133.4,366.4 L1134.5,368.1 L1135.5,369.8 L1136.5,371.5 L1137.5,373.3 L1138.6,375.0 L1139.6,376.7 L1140.6,378.4 L1141.7,380.1 L1142.7,381.8 L1143.8,383.5 L1144.8,385.2 L1145.9,386.9 L1146.9,388.6 L1147.9,390.4 L1148.9,392.1 L1149.8,393.9 L1150.7,395.6 L1151.7,397.4 L1152.6,399.2 L1153.4,401.0 L1154.3,402.8 L1155.2,404.6 L1156.1,406.4 L1157.0,408.2 L1157.9,410.0 L1158.7,411.8 L1159.6,413.5 L1160.6,415.3 L1161.5,417.1 L1162.4,418.9 L1163.3,420.7 L1164.2,422.5 L1165.1,424.2 L1166.0,426.0 L1166.8,427.8 L1167.7,429.6 L1168.5,431.5 L1169.3,433.3 L1170.2,435.1 L1170.9,437.0 L1171.7,438.8 L1172.5,440.6 L1173.2,442.5 L1174.0,444.4 L1174.7,446.2 L1175.4,448.1 L1176.1,450.0 L1176.9,451.8 L1177.5,453.7 L1178.2,455.6 L1178.9,457.5 L1179.6,459.3 L1180.2,461.2 L1180.9,463.1 L1181.5,465.0 L1182.2,466.9 L1182.8,468.8 L1183.4,470.7 L1184.0,472.6 L1184.6,474.5 L1185.1,476.5 L1185.7,478.4 L1186.2,480.3 L1186.7,482.2 L1187.3,484.2 L1187.8,486.1 L1188.3,488.0 L1188.8,490.0 L1189.3,491.9 L1189.8,493.9 L1190.3,495.8 L1190.8,497.7 L1191.3,499.7 L1191.8,501.6 L1192.3,503.5 L1192.8,505.5 L1193.2,507.4 L1193.7,509.4 L1194.2,511.3 L1194.7,513.2 L1195.2,515.2 L1195.7,517.1 L1196.3,519.0 L1196.8,521.0 L1197.3,522.9 L1197.8,524.8 L1198.3,526.8 L1198.8,528.7 L1199.4,530.6 L1199.9,532.5 L1200.4,534.5 L1201.0,536.4 L1201.5,538.3 L1202.0,540.3 L1202.6,542.2 L1203.1,544.1 L1203.6,546.0 L1204.2,548.0 L1204.7,549.9 L1205.3,551.8 L1205.8,553.7 L1206.4,555.7 L1206.9,557.6 L1207.4,559.5 L1207.9,561.5 L1208.4,563.4 L1208.9,565.3 L1209.4,567.3 L1209.8,569.2 L1210.3,571.2 L1210.7,573.1 L1211.2,575.1 L1211.6,577.0 L1212.0,579.0 L1212.4,580.9 L1212.8,582.9 L1213.2,584.9 L1213.6,586.8 L1214.0,588.8 L1214.4,590.7 L1214.8,592.7 L1215.2,594.7 L1215.6,596.6 L1216.0,598.6 L1216.3,600.6 L1216.7,602.5 L1217.1,604.5 L1217.4,606.4 L1217.8,608.4 L1218.2,610.4 L1218.5,612.3 L1218.9,614.3 L1219.3,616.3 L1219.6,618.3 L1220.0,620.2 L1220.3,622.2 L1220.7,624.2 L1221.0,626.1 L1221.3,628.1 L1221.7,630.1 L1222.0,632.0 L1222.3,634.0 L1222.7,636.0 L1223.0,638.0 L1223.3,639.9 L1223.6,641.9 L1224.0,643.9 L1224.3,645.9 L1224.6,647.8 L1224.9,649.8 L1225.2,651.8 L1225.5,653.8 L1225.9,655.7 L1226.2,657.7 L1226.5,659.7 L1226.8,661.7 L1227.1,663.6 L1227.4,665.6 L1227.7,667.6 L1228.0,669.6 L1228.3,671.6 L1228.6,673.5 L1228.8,675.5 L1229.1,677.5 L1229.4,679.5 L1229.7,681.5 L1229.9,683.4 L1230.2,685.4 L1230.5,687.4 L1230.8,689.4 L1231.0,691.4 L1231.3,693.3 L1231.6,695.3 L1231.9,697.3 L1232.1,699.3 L1232.4,701.3 L1232.7,703.2 L1233.0,705.2 L1233.3,707.2 L1233.5,709.2 L1233.8,711.2 L1234.1,713.1 L1234.4,715.1 L1234.7,717.1 L1235.0,719.1 L1235.4,721.0 L1235.7,723.0 L1236.0,725.0 L1236.3,727.0 L1236.6,728.9 L1237.0,730.9 L1237.3,732.9 L1237.6,734.9 L1237.9,736.8 L1238.3,738.8 L1238.6,740.8 L1238.9,742.8 L1239.2,744.7 L1239.5,746.7 L1239.8,748.7 L1240.1,750.7 L1240.4,752.6 L1240.7,754.6 L1241.0,756.6 L1241.3,758.6 L1241.6,760.6 L1241.8,762.5 L1242.1,764.5 L1242.4,766.5 L1242.6,768.5 L1242.9,770.5 L1243.1,772.5 L1243.3,774.4 L1243.6,776.4 L1243.8,778.4 L1244.0,780.4 L1244.2,782.4 L1244.5,784.4 L1244.7,786.4 L1244.9,788.4 L1245.1,790.3 L1245.3,792.3 L1245.5,794.3 L1245.7,796.3 L1246.0,798.3 L1246.2,800.3 L1246.4,802.3 L1246.6,804.3 L1246.8,806.3 L1247.0,808.2 L1247.2,810.2 L1247.5,812.2 L1247.7,814.2 L1247.9,816.2 L1248.1,818.2 L1248.3,820.2 L1248.6,822.2 L1248.8,824.1 L1249.1,826.1 L1249.3,828.1 L1249.5,830.1 L1249.8,832.1 L1250.1,834.1 L1250.3,836.0 L1250.6,838.0 L1250.9,840.0 L1251.1,842.0 L1251.4,844.0 L1251.7,846.0 L1252.0,847.9 L1252.2,849.9 L1252.5,851.9 L1252.8,853.9 L1253.1,855.9 L1253.4,857.8 L1253.6,859.8 L1253.9,861.8 L1254.2,863.8 L1254.4,865.8 L1254.7,867.7 L1255.0,869.7 L1255.2,871.7 L1255.5,873.7 L1255.7,875.7 L1256.0,877.7 L1256.2,879.7 L1256.5,881.6 L1256.7,883.6 L1256.9,885.6 L1257.1,887.6 L1257.4,889.6 L1257.6,891.6 L1257.8,893.6 L1258.1,895.5 L1258.3,897.5 L1258.5,899.5 L1258.7,901.5 L1258.9,903.5 L1259.1,905.5 L1259.3,907.5 L1259.5,909.5 L1259.7,911.5 L1259.9,913.4 L1260.1,915.4 L1260.3,917.4 L1260.5,919.4 L1260.7,921.4 L1260.9,923.4 L1261.1,925.4 L1261.2,927.4 L1261.4,929.4 L1261.6,931.4 L1261.7,933.4 L1261.9,935.4 L1262.0,937.4 L1262.2,939.3 L1262.3,941.3 L1262.5,943.3 L1262.6,945.3 L1262.7,947.3 L1262.8,949.3 L1263.0,951.3 L1263.1,953.3 L1263.2,955.3 L1263.3,957.3 L1263.4,959.3 L1263.5,961.3 L1263.6,963.3 L1263.7,965.3 L1263.9,967.3 L1264.0,969.3 L1264.1,971.3 L1264.2,973.3 L1264.3,975.3 L1264.4,977.3 L1264.5,979.3 L1264.7,981.3 L1264.8,983.3 L1264.9,985.3 L1265.0,987.3 L1265.2,989.3 L1265.3,991.3 L1265.5,993.2 L1265.7,995.2 L1265.8,997.2 L1266.0,999.2 L1266.2,1001.2 L1266.4,1003.2 L1266.6,1005.2 L1266.8,1007.2 L1267.0,1009.2 L1267.2,1011.2 L1267.5,1013.1 L1267.7,1015.1 L1267.9,1017.1 L1268.2,1019.1 L1268.4,1021.1 L1268.7,1023.1 L1268.9,1025.1 L1269.2,1027.0 L1269.5,1029.0 L1269.7,1031.0 L1270.0,1033.0 L1270.3,1035.0 L1270.6,1036.9 L1270.8,1038.9 L1271.1,1040.9 L1271.4,1042.9 L1271.7,1044.9 L1271.9,1046.9 L1272.2,1048.8 L1272.4,1050.8 L1272.7,1052.8 L1272.9,1054.8 L1273.2,1056.8 L1273.4,1058.8 L1273.7,1060.7 L1273.9,1062.7 L1274.2,1064.7 L1274.4,1066.7 L1274.7,1068.7 L1274.9,1070.7 L1275.2,1072.6 L1275.4,1074.6 L1275.7,1076.6 L1275.9,1078.6 L1276.2,1080.6 L1276.4,1082.6 L1276.6,1084.6 L1276.9,1086.5 L1277.1,1088.5 L1277.3,1090.5 L1277.5,1092.5 L1277.7,1094.5 L1277.9,1096.5 L1278.1,1098.5 L1278.3,1100.5 L1278.5,1102.5 L1278.7,1104.4 L1278.9,1106.4 L1279.1,1108.4 L1279.2,1110.4 L1279.4,1112.4 L1279.6,1114.4 L1279.7,1116.4 L1279.9,1118.4 L1280.1,1120.4 L1280.2,1122.4 L1280.4,1124.4 L1280.5,1126.4 L1280.7,1128.4 L1280.8,1130.4 L1281.0,1132.4 L1281.1,1134.4 L1281.3,1136.3 L1281.4,1138.3 L1281.6,1140.3 L1281.7,1142.3 L1281.9,1144.3 L1282.1,1146.3 L1282.2,1148.3 L1282.3,1150.3 L1282.5,1152.3 L1282.6,1154.3 L1282.8,1156.3 L1282.9,1158.3 L1283.0,1160.3 L1283.2,1162.3 L1283.3,1164.3 L1283.5,1166.3 L1283.6,1168.3 L1283.7,1170.3 L1283.9,1172.3 L1284.0,1174.2 L1284.2,1176.2 L1284.4,1178.2 L1284.5,1180.2 L1284.7,1182.2 L1284.9,1184.2 L1285.1,1186.2 L1285.3,1188.2 L1285.5,1190.2 L1285.7,1192.2 L1285.9,1194.2 L1286.1,1196.1 L1286.4,1198.1 L1286.6,1200.1 L1286.8,1202.1 L1287.1,1204.1 L1287.3,1206.1 L1287.6,1208.1 L1287.8,1210.0 L1288.1,1212.0 L1288.5,1214.0 L1288.9,1215.9 L1289.3,1217.9 L1289.8,1219.8 L1290.3,1221.8 L1290.9,1223.7 L1291.5,1225.6 L1292.2,1227.4 L1292.9,1229.3 L1293.7,1231.1 L1294.6,1232.9 L1295.5,1234.7 L1296.5,1236.4 L1297.6,1238.1 L1298.7,1239.8 L1299.9,1241.4 L1301.1,1242.9 L1302.5,1244.4 L1303.8,1245.8 L1305.3,1247.2 L1306.7,1248.6 L1308.3,1249.9 L1309.8,1251.2 L1311.4,1252.4 L1313.0,1253.6 L1314.7,1254.7 L1316.4,1255.7 L1318.1,1256.7 L1319.9,1257.6 L1321.7,1258.4 L1323.5,1259.2 L1325.4,1259.9 L1327.3,1260.7 L1329.1,1261.3 L1331.0,1262.0 L1332.9,1262.6 L1334.8,1263.2 L1336.7,1263.8 L1338.7,1264.3 L1340.6,1264.9 L1342.5,1265.4 L1344.5,1265.9 L1346.4,1266.4 L1348.3,1266.9 L1350.3,1267.3 L1352.2,1267.8 L1354.2,1268.3 L1356.1,1268.7 L1358.1,1269.2 L1360.0,1269.6 L1362.0,1270.1 L1363.9,1270.6 L1365.9,1271.0 L1367.8,1271.5 L1369.8,1271.9 L1371.7,1272.3 L1373.7,1272.8 L1375.6,1273.2 L1377.6,1273.6 L1379.5,1274.0 L1381.5,1274.4 L1383.4,1274.8 L1385.4,1275.2 L1387.4,1275.6 L1389.3,1276.0 L1391.3,1276.4 L1393.3,1276.7 L1395.2,1277.1 L1397.2,1277.5 L1399.2,1277.8 L1401.1,1278.2 L1403.1,1278.5 L1405.1,1278.8 L1407.0,1279.2 L1409.0,1279.5 L1411.0,1279.8 L1413.0,1280.1 L1415.0,1280.4 L1416.9,1280.7 L1418.9,1281.0 L1420.9,1281.3 L1422.9,1281.6 L1424.8,1281.9 L1426.8,1282.1 L1428.8,1282.4 L1430.8,1282.7 L1432.8,1283.0 L1434.8,1283.2 L1436.7,1283.5 L1438.7,1283.7 L1440.7,1284.0 L1442.7,1284.2 L1444.7,1284.5 L1446.7,1284.7 L1448.6,1285.0 L1450.6,1285.2 L1452.6,1285.4 L1454.6,1285.6 L1456.6,1285.8 L1458.6,1286.0 L1460.6,1286.2 L1462.6,1286.4 L1464.6,1286.6 L1466.5,1286.8 L1468.5,1287.0 L1470.5,1287.2 L1472.5,1287.3 L1474.5,1287.5 L1476.5,1287.7 L1478.5,1287.8 L1480.5,1288.0 L1482.5,1288.1 L1484.5,1288.3 L1486.5,1288.4 L1488.5,1288.5 L1490.5,1288.7 L1492.5,1288.8 L1494.5,1288.9 L1496.5,1289.1 L1498.5,1289.2 L1500.5,1289.3 L1502.4,1289.5 L1504.4,1289.6 L1506.4,1289.8 L1508.4,1289.9 L1510.4,1290.0 L1512.4,1290.2 L1514.4,1290.3 L1516.4,1290.5 L1518.4,1290.6 L1520.4,1290.8 L1522.4,1290.9 L1524.4,1291.1 L1526.4,1291.3 L1528.4,1291.4 L1530.4,1291.6 L1532.4,1291.8 L1534.4,1291.9 L1536.3,1292.1 L1538.3,1292.3 L1540.3,1292.4 L1542.3,1292.6 L1544.3,1292.8 L1546.3,1292.9 L1548.3,1293.1 L1550.3,1293.3 L1552.3,1293.4 L1554.3,1293.6 L1556.3,1293.7 L1558.3,1293.9 L1560.3,1294.0 L1562.3,1294.2 L1564.3,1294.3 L1566.3,1294.4 L1568.2,1294.6 L1570.2,1294.7 L1572.2,1294.8 L1574.2,1295.0 L1576.2,1295.1 L1578.2,1295.2 L1580.2,1295.4 L1582.2,1295.5 L1584.2,1295.6 L1586.2,1295.7 L1588.2,1295.9 L1590.2,1296.0 L1592.2,1296.1 L1594.2,1296.2 L1596.2,1296.4 L1598.2,1296.5 L1600.2,1296.6 L1602.2,1296.7 L1604.2,1296.8 L1606.2,1297.0 L1608.2,1297.1 L1610.2,1297.2 L1612.2,1297.3 L1614.2,1297.4 L1616.2,1297.5 L1618.2,1297.6 L1620.2,1297.7 L1622.1,1297.8 L1624.1,1298.0 L1626.1,1298.1 L1628.1,1298.2 L1630.1,1298.3 L1632.1,1298.4 L1634.1,1298.5 L1636.1,1298.6 L1638.1,1298.7 L1640.1,1298.7 L1642.1,1298.8 L1644.1,1298.9 L1646.1,1299.0 L1648.1,1299.1 L1650.1,1299.2 L1652.1,1299.3 L1654.1,1299.4 L1656.1,1299.5 L1658.1,1299.5 L1660.1,1299.6 L1662.1,1299.7 L1664.1,1299.8 L1666.1,1299.9 L1668.1,1299.9 L1670.1,1300.0 L1672.1,1300.1 L1674.1,1300.2 L1676.1,1300.2 L1678.1,1300.3 L1680.1,1300.4 L1682.1,1300.5 L1684.1,1300.5 L1686.1,1300.6 L1688.1,1300.7 L1690.1,1300.8 L1692.1,1300.8 L1694.1,1300.9 L1696.1,1301.0 L1698.1,1301.1 L1700.1,1301.1 L1702.1,1301.2 L1704.1,1301.3 L1706.1,1301.4 L1708.1,1301.5 L1710.1,1301.5 L1712.1,1301.6 L1714.1,1301.7 L1716.1,1301.8 L1718.1,1301.9 L1720.1,1301.9 L1722.1,1302.0 L1724.1,1302.1 L1726.1,1302.2 L1728.1,1302.3 L1730.1,1302.3 L1732.1,1302.4 L1734.1,1302.5 L1736.0,1302.6 L1738.0,1302.7 L1740.0,1302.7 L1742.0,1302.8 L1744.0,1302.9 L1746.0,1303.0 L1748.0,1303.1 L1750.0,1303.1 L1752.0,1303.2 L1754.0,1303.3 L1756.0,1303.4 L1758.0,1303.5 L1760.0,1303.5 L1762.0,1303.6 L1764.0,1303.7 L1766.0,1303.8 L1768.0,1303.9 L1770.0,1303.9 L1772.0,1304.0 L1774.0,1304.1 L1776.0,1304.2 L1778.0,1304.3 L1780.0,1304.3 L1782.0,1304.4 L1784.0,1304.5 L1786.0,1304.6 L1788.0,1304.7 L1790.0,1304.7 L1792.0,1304.8 L1794.0,1304.9 L1796.0,1305.0 L1798.0,1305.1 L1800.0,1305.2 L1802.0,1305.2 L1804.0,1305.3 L1806.0,1305.4 L1808.0,1305.5 L1810.0,1305.6 L1812.0,1305.7 L1814.0,1305.8 L1816.0,1305.9 L1818.0,1306.0 L1820.0,1306.1 L1822.0,1306.2 L1824.0,1306.2 L1826.0,1306.3 L1828.0,1306.4 L1830.0,1306.5 L1832.0,1306.6 L1834.0,1306.7 L1836.0,1306.8 L1838.0,1306.9 L1840.0,1306.9 L1842.0,1307.0 L1844.0,1307.1 L1846.0,1307.2 L1848.0,1307.3 L1850.0,1307.3 L1851.9,1307.4 L1853.9,1307.5 L1855.9,1307.5 L1857.9,1307.6 L1859.9,1307.7 L1861.9,1307.7 L1863.9,1307.8 L1865.9,1307.8 L1867.9,1307.9 L1869.9,1307.9 L1871.9,1308.0 L1873.9,1308.0 L1875.9,1308.0 L1877.9,1308.1 L1879.9,1308.1 L1881.9,1308.1 L1883.9,1308.2 L1885.9,1308.2 L1887.9,1308.2 L1889.9,1308.2 L1891.9,1308.3 L1893.9,1308.3 L1895.9,1308.3 L1897.9,1308.4 L1899.9,1308.4 L1901.9,1308.4 L1903.9,1308.5 L1905.9,1308.5 L1907.9,1308.6 L1909.9,1308.6 L1911.9,1308.7 L1913.9,1308.7 L1915.9,1308.8 L1917.9,1308.9 L1919.9,1309.0 L1921.9,1309.1 L1923.9,1309.2 L1925.9,1309.3 L1927.9,1309.4 L1929.9,1309.5 L1931.9,1309.6 L1933.9,1309.7 L1935.9,1309.9 L1937.9,1310.0 L1939.9,1310.1 L1941.9,1310.3 L1943.9,1310.4 L1945.9,1310.6 L1947.9,1310.8 L1949.9,1310.9 L1951.9,1311.1 L1953.8,1311.3 L1955.8,1311.4 L1957.8,1311.6 L1959.8,1311.8 L1961.8,1311.9 L1963.8,1312.1 L1965.8,1312.3 L1967.8,1312.5 L1969.8,1312.7 L1971.8,1312.9 L1973.8,1313.0 L1975.8,1313.2 L1977.8,1313.4 L1979.7,1313.6 L1981.7,1313.8 L1983.7,1313.9 L1985.7,1314.1 L1987.7,1314.3 L1989.7,1314.5 L1991.7,1314.7 L1993.7,1314.8 L1995.7,1315.0 L1997.7,1315.2 L1999.7,1315.4 L2001.7,1315.6 L2003.6,1315.8 L2005.6,1316.0 L2007.6,1316.2 L2009.6,1316.4 L2011.6,1316.6 L2013.6,1316.8 L2015.6,1317.1 L2017.6,1317.3 L2019.6,1317.5 L2021.5,1317.7 L2023.5,1317.9 L2025.5,1318.2 L2027.5,1318.4 L2029.5,1318.6 L2031.5,1318.8 L2033.5,1319.1 L2035.4,1319.3 L2037.4,1319.5 L2039.4,1319.8 L2041.4,1320.0 L2043.4,1320.2 L2045.4,1320.5 L2047.4,1320.7 L2049.4,1320.9 L2051.3,1321.2 L2053.3,1321.4 L2055.3,1321.6 L2057.3,1321.9 L2059.3,1322.1 L2061.3,1322.3 L2063.3,1322.5 L2065.2,1322.8 L2067.2,1323.0 L2069.2,1323.2 L2071.2,1323.4 L2073.2,1323.7 L2075.2,1323.9 L2077.2,1324.1 L2079.2,1324.3 L2081.2,1324.5 L2083.1,1324.7 L2085.1,1324.9 L2087.1,1325.1 L2089.1,1325.3 L2091.1,1325.5 L2093.1,1325.7 L2095.1,1325.9 L2097.1,1326.1 L2099.1,1326.2 L2101.1,1326.4 L2103.1,1326.6 L2105.0,1326.8 L2107.0,1327.0 L2109.0,1327.2 L2111.0,1327.3 L2113.0,1327.5 L2115.0,1327.7 L2117.0,1327.9 L2119.0,1328.1 L2121.0,1328.3 L2123.0,1328.5 L2125.0,1328.7 L2126.9,1328.9 L2128.9,1329.1 L2130.9,1329.3 L2132.9,1329.6 L2134.9,1329.8 L2136.9,1330.0 L2138.9,1330.3 L2140.8,1330.5 L2142.8,1330.8 L2144.8,1331.1 L2146.8,1331.3 L2148.8,1331.6 L2150.8,1331.9 L2152.7,1332.2 L2154.7,1332.5 L2156.7,1332.8 L2158.7,1333.1 L2160.6,1333.4 L2162.6,1333.7 L2164.6,1334.0 L2166.6,1334.3 L2168.5,1334.7 L2170.5,1335.0 L2172.5,1335.3 L2174.5,1335.6 L2176.4,1335.9 L2178.4,1336.3 L2180.4,1336.6 L2182.4,1336.9 L2184.3,1337.2 L2186.2,1337.5 L2187.9,1337.8 L2189.3,1338.0 L2189.9,1338.1" fill="none" stroke="#ffc400" stroke-width="5.0" stroke-linejoin="round" stroke-linecap="butt"/>
<path d="M331.4,89.5 L332.6,89.5 L334.2,89.5 L336.1,89.4 L338.0,89.4 L340.0,89.4 L342.0,89.4 L344.0,89.3 L346.0,89.3 L348.0,89.3 L350.0,89.3 L352.0,89.2 L354.0,89.2 L356.0,89.2 L358.0,89.2 L360.0,89.1 L362.0,89.1 L364.0,89.1 L366.0,89.1 L368.0,89.0 L370.0,89.0 L372.0,89.0 L374.0,89.0 L376.0,88.9 L378.0,88.9 L380.0,88.9 L382.0,88.9 L384.0,88.8 L386.0,88.8 L388.0,88.8 L390.0,88.8 L392.0,88.8 L394.0,88.7 L396.0,88.7 L398.0,88.7 L400.0,88.7 L402.0,88.7 L404.0,88.7 L406.0,88.7 L408.0,88.6 L410.0,88.6 L412.0,88.6 L414.0,88.6 L416.0,88.6 L418.0,88.6 L420.0,88.6 L422.0,88.6 L424.0,88.6 L426.0,88.6 L428.0,88.6 L430.0,88.6 L432.0,88.6 L434.0,88.6 L436.0,88.6 L438.0,88.6 L440.0,88.6 L442.0,88.6 L444.0,88.6 L446.0,88.6 L448.0,88.6 L450.0,88.6 L452.0,88.6 L454.0,88.7 L456.0,88.8 L458.0,88.9 L460.0,89.1 L462.0,89.3 L464.0,89.5 L465.9,89.7 L467.9,89.8 L469.9,89.9 L471.9,90.0 L473.9,90.1 L475.9,90.2 L477.9,90.2 L479.9,90.3 L481.9,90.3 L483.9,90.4 L485.9,90.4 L487.9,90.5 L489.9,90.5 L491.9,90.6 L493.9,90.6 L495.9,90.7 L497.9,90.7 L499.9,90.7 L501.9,90.8 L503.9,90.8 L505.9,90.9 L507.9,90.9 L509.9,90.9 L511.9,91.0 L513.9,91.0 L515.9,91.0 L517.9,91.1 L519.9,91.1 L521.9,91.1 L523.9,91.1 L525.9,91.2 L527.9,91.2 L529.9,91.2 L531.9,91.2 L533.9,91.3 L535.9,91.3 L537.9,91.3 L539.9,91.3 L541.9,91.3 L543.9,91.4 L545.9,91.4 L547.9,91.4 L549.9,91.4 L551.9,91.4 L553.9,91.4 L555.9,91.4 L557.9,91.5 L559.9,91.5 L561.9,91.5 L563.9,91.5 L565.9,91.5 L567.9,91.5 L569.9,91.5 L571.9,91.5 L573.9,91.5 L575.9,91.5 L577.9,91.5 L579.9,91.5 L581.9,91.5 L583.9,91.5 L585.9,91.5 L587.9,91.5 L589.9,91.5 L591.9,91.5 L593.9,91.5 L595.9,91.5 L597.9,91.5 L599.9,91.5 L601.9,91.5 L603.9,91.5 L605.9,91.5 L607.9,91.5 L609.9,91.5 L611.9,91.5 L613.9,91.5 L615.9,91.5 L617.9,91.5 L619.9,91.5 L621.9,91.5 L623.9,91.5 L625.9,91.5 L627.9,91.5 L629.9,91.5 L631.9,91.5 L633.9,91.5 L635.9,91.5 L637.9,91.4 L639.9,91.3 L641.9,91.1 L643.9,90.8 L645.8,90.5 L647.8,90.3 L649.8,90.2 L651.8,90.1 L653.8,90.0 L655.8,90.0 L657.8,90.0 L659.8,90.0 L661.8,90.0 L663.8,90.0 L665.8,90.0 L667.8,90.0 L669.8,90.0 L671.8,90.1 L673.8,90.1 L675.8,90.1 L677.8,90.1 L679.8,90.1 L681.8,90.1 L683.8,90.1 L685.8,90.1 L687.8,90.1 L689.8,90.2 L691.8,90.2 L693.8,90.2 L695.8,90.2 L697.8,90.2 L699.8,90.2 L701.8,90.2 L703.8,90.2 L705.8,90.3 L707.8,90.3 L709.8,90.3 L711.8,90.3 L713.8,90.3 L715.8,90.3 L717.8,90.3 L719.8,90.3 L721.8,90.4 L723.8,90.4 L725.8,90.4 L727.8,90.4 L729.8,90.4 L731.8,90.4 L733.8,90.4 L735.8,90.4 L737.8,90.4 L739.8,90.4 L741.8,90.4 L743.8,90.5 L745.8,90.5 L747.8,90.5 L749.8,90.5 L751.8,90.5 L753.8,90.5 L755.8,90.5 L757.8,90.5 L759.8,90.5 L761.8,90.5 L763.8,90.5 L765.8,90.5 L767.8,90.5 L769.8,90.5 L771.8,90.5 L773.8,90.5 L775.8,90.5 L777.8,90.5 L779.8,90.5 L781.8,90.5 L783.8,90.5 L785.8,90.5 L787.8,90.5 L789.8,90.6 L791.8,90.6 L793.8,90.6 L795.8,90.6 L797.8,90.6 L799.8,90.6 L801.8,90.6 L803.8,90.6 L805.8,90.6 L807.8,90.6 L809.8,90.6 L811.8,90.6 L813.8,90.6 L815.8,90.6 L817.8,90.6 L819.8,90.6 L821.8,90.6 L823.8,90.6 L825.8,90.6 L827.8,90.6 L829.8,90.6 L831.8,90.6 L833.8,90.6 L835.8,90.7 L837.8,90.7 L839.8,90.7 L841.8,90.7 L843.8,90.7 L845.8,90.7 L847.8,90.7 L849.8,90.7 L851.8,90.7 L853.8,90.7 L855.8,90.7 L857.8,90.8 L859.8,90.8 L861.8,90.8 L863.8,90.8 L865.8,90.8 L867.8,90.8 L869.8,90.8 L871.8,90.8 L873.8,90.9 L875.8,90.9 L877.8,90.9 L879.8,90.9 L881.8,90.9 L883.8,90.9 L885.8,91.0 L887.8,91.0 L889.8,91.0 L891.8,91.1 L893.8,91.1 L895.7,91.3 L897.6,91.7 L899.4,92.2 L901.2,92.9 L903.1,93.4 L905.0,93.9 L906.9,94.2 L908.9,94.4 L910.9,94.6 L912.9,94.7 L914.9,94.8 L916.9,94.9 L918.9,95.0 L920.9,95.1 L922.9,95.1 L924.9,95.2 L926.9,95.3 L928.9,95.3 L930.9,95.4 L932.9,95.5 L934.9,95.6 L936.9,95.8 L938.9,95.9 L940.8,96.2 L942.8,96.4 L944.8,96.7 L946.8,97.0 L948.8,97.3 L950.7,97.7 L952.7,98.0 L954.7,98.4 L956.6,98.8 L958.6,99.1 L960.6,99.5 L962.5,99.9 L964.5,100.3 L966.4,100.8 L968.3,101.3 L970.2,101.9 L972.1,102.6 L974.0,103.4 L975.8,104.2 L977.6,105.0 L979.4,105.8 L981.3,106.6 L983.1,107.4 L985.0,108.1 L986.9,108.7 L988.8,109.4 L990.6,110.1 L992.5,110.8 L994.2,111.7 L995.9,112.7 L997.6,113.8 L999.2,115.0 L1000.8,116.2 L1002.4,117.4 L1004.0,118.6 L1005.6,119.8 L1007.3,120.9 L1008.9,122.1 L1010.5,123.3 L1012.1,124.4 L1013.7,125.6 L1015.4,126.8 L1017.0,128.0 L1018.6,129.2 L1020.1,130.4 L1021.7,131.6 L1023.3,132.8 L1024.9,134.1 L1026.5,135.2 L1028.1,136.4 L1029.8,137.6 L1031.4,138.7 L1033.0,139.9 L1034.6,141.1 L1036.2,142.4 L1037.7,143.7 L1039.1,145.0 L1040.5,146.5 L1041.8,148.0 L1043.1,149.5 L1044.4,151.1 L1045.6,152.6 L1046.8,154.2 L1048.0,155.8 L1049.2,157.4 L1050.4,159.0 L1051.6,160.6 L1052.8,162.2 L1054.1,163.8 L1055.3,165.4 L1056.5,166.9 L1057.7,168.6 L1058.8,170.2 L1059.9,171.9 L1061.0,173.6 L1062.0,175.3 L1063.0,177.0 L1064.0,178.8 L1064.9,180.5 L1065.7,182.3 L1066.5,184.2 L1067.3,186.0 L1068.0,187.9 L1068.6,189.8 L1069.2,191.7 L1069.7,193.6 L1070.3,195.5 L1070.9,197.4 L1071.6,199.3 L1072.2,201.2 L1072.8,203.1 L1073.5,205.0 L1074.1,206.9 L1074.8,208.8 L1075.4,210.7 L1076.0,212.6 L1076.6,214.5 L1077.3,216.4 L1077.9,218.3 L1078.5,220.2 L1079.2,222.1 L1079.8,224.0 L1080.5,225.9 L1081.2,227.8 L1081.9,229.6 L1082.6,231.5 L1083.2,233.4 L1083.9,235.3 L1084.5,237.2 L1085.1,239.1 L1085.7,241.0 L1086.3,242.9 L1086.9,244.8 L1087.5,246.7 L1088.0,248.6 L1088.6,250.6 L1089.2,252.5 L1089.8,254.4 L1090.4,256.3 L1091.1,258.2 L1091.7,260.1 L1092.3,262.0 L1093.0,263.9 L1093.6,265.8 L1094.3,267.7 L1094.9,269.6 L1095.5,271.5 L1096.1,273.4 L1096.7,275.3 L1097.2,277.2 L1097.8,279.1 L1098.3,281.0 L1098.9,283.0 L1099.4,284.9 L1099.9,286.8 L1100.4,288.8 L1100.9,290.7 L1101.3,292.7 L1101.7,294.6 L1102.1,296.6 L1102.5,298.5 L1102.9,300.5 L1103.3,302.5 L1103.7,304.4 L1104.0,306.4 L1104.4,308.4 L1104.8,310.3 L1105.3,312.3 L1105.7,314.2 L1106.2,316.2 L1106.7,318.1 L1107.2,320.0 L1107.7,322.0 L1108.2,323.9 L1108.7,325.8 L1109.3,327.8 L1109.8,329.7 L1110.4,331.6 L1111.0,333.5 L1111.6,335.4 L1112.2,337.3 L1112.7,339.3 L1113.3,341.2 L1113.8,343.1 L1114.4,345.0 L1115.0,346.9 L1115.6,348.8 L1116.2,350.7 L1116.9,352.6 L1117.6,354.5 L1118.4,356.3 L1119.2,358.1 L1120.1,359.9 L1121.1,361.7 L1122.1,363.4 L1123.1,365.1 L1124.2,366.8 L1125.3,368.4 L1126.5,370.0 L1127.6,371.7 L1128.7,373.3 L1129.8,375.1 L1130.7,376.8 L1131.7,378.6 L1132.5,380.4 L1133.4,382.2 L1134.3,384.0 L1135.1,385.8 L1136.0,387.6 L1136.9,389.4 L1137.8,391.2 L1138.7,392.9 L1139.6,394.7 L1140.5,396.5 L1141.5,398.2 L1142.5,400.0 L1143.6,401.7 L1144.6,403.4 L1145.7,405.1 L1146.7,406.8 L1147.8,408.5 L1148.8,410.2 L1149.8,411.9 L1150.8,413.6 L1151.7,415.4 L1152.6,417.2 L1153.5,419.0 L1154.3,420.8 L1155.1,422.7 L1155.8,424.5 L1156.6,426.4 L1157.3,428.2 L1158.0,430.1 L1158.7,432.0 L1159.4,433.8 L1160.2,435.7 L1160.9,437.6 L1161.6,439.4 L1162.4,441.3 L1163.2,443.1 L1163.9,445.0 L1164.7,446.8 L1165.5,448.6 L1166.3,450.5 L1167.1,452.3 L1167.8,454.2 L1168.5,456.1 L1169.2,457.9 L1169.9,459.8 L1170.5,461.7 L1171.1,463.6 L1171.6,465.6 L1172.2,467.5 L1172.7,469.4 L1173.2,471.4 L1173.7,473.3 L1174.2,475.2 L1174.6,477.2 L1175.1,479.1 L1175.6,481.0 L1176.1,483.0 L1176.6,484.9 L1177.1,486.8 L1177.7,488.8 L1178.2,490.7 L1178.7,492.6 L1179.2,494.6 L1179.7,496.5 L1180.2,498.4 L1180.7,500.4 L1181.3,502.3 L1181.8,504.2 L1182.3,506.2 L1182.8,508.1 L1183.3,510.0 L1183.9,512.0 L1184.4,513.9 L1184.9,515.8 L1185.4,517.8 L1185.9,519.7 L1186.5,521.6 L1187.0,523.6 L1187.5,525.5 L1188.0,527.4 L1188.5,529.3 L1189.1,531.3 L1189.6,533.2 L1190.1,535.1 L1190.7,537.1 L1191.2,539.0 L1191.7,540.9 L1192.2,542.9 L1192.7,544.8 L1193.2,546.7 L1193.6,548.7 L1194.1,550.6 L1194.5,552.6 L1195.0,554.5 L1195.4,556.5 L1195.8,558.4 L1196.2,560.4 L1196.6,562.4 L1197.0,564.3 L1197.5,566.3 L1197.9,568.2 L1198.3,570.2 L1198.7,572.1 L1199.2,574.1 L1199.6,576.0 L1200.1,578.0 L1200.5,579.9 L1201.0,581.9 L1201.4,583.8 L1201.9,585.8 L1202.3,587.7 L1202.8,589.7 L1203.2,591.6 L1203.7,593.6 L1204.1,595.5 L1204.6,597.5 L1205.0,599.4 L1205.4,601.4 L1205.8,603.3 L1206.2,605.3 L1206.6,607.3 L1207.0,609.2 L1207.4,611.2 L1207.8,613.1 L1208.2,615.1 L1208.5,617.1 L1208.9,619.0 L1209.2,621.0 L1209.6,623.0 L1209.9,625.0 L1210.3,626.9 L1210.6,628.9 L1210.9,630.9 L1211.2,632.8 L1211.6,634.8 L1211.9,636.8 L1212.2,638.8 L1212.5,640.7 L1212.8,642.7 L1213.1,644.7 L1213.5,646.7 L1213.8,648.6 L1214.1,650.6 L1214.4,652.6 L1214.7,654.6 L1215.0,656.5 L1215.3,658.5 L1215.7,660.5 L1216.0,662.5 L1216.3,664.4 L1216.6,666.4 L1216.9,668.4 L1217.3,670.4 L1217.6,672.3 L1217.9,674.3 L1218.2,676.3 L1218.5,678.3 L1218.9,680.2 L1219.2,682.2 L1219.5,684.2 L1219.8,686.2 L1220.1,688.1 L1220.5,690.1 L1220.8,692.1 L1221.1,694.1 L1221.4,696.0 L1221.7,698.0 L1222.0,700.0 L1222.3,702.0 L1222.6,703.9 L1222.9,705.9 L1223.2,707.9 L1223.5,709.9 L1223.8,711.8 L1224.1,713.8 L1224.4,715.8 L1224.7,717.8 L1225.0,719.8 L1225.2,721.7 L1225.5,723.7 L1225.8,725.7 L1226.1,727.7 L1226.3,729.7 L1226.6,731.7 L1226.9,733.6 L1227.2,735.6 L1227.4,737.6 L1227.7,739.6 L1228.0,741.6 L1228.2,743.5 L1228.5,745.5 L1228.8,747.5 L1229.0,749.5 L1229.3,751.5 L1229.6,753.5 L1229.9,755.4 L1230.1,757.4 L1230.4,759.4 L1230.7,761.4 L1231.0,763.4 L1231.2,765.3 L1231.5,767.3 L1231.8,769.3 L1232.1,771.3 L1232.4,773.3 L1232.6,775.2 L1232.9,777.2 L1233.2,779.2 L1233.5,781.2 L1233.8,783.2 L1234.1,785.1 L1234.4,787.1 L1234.6,789.1 L1234.9,791.1 L1235.2,793.1 L1235.5,795.0 L1235.8,797.0 L1236.1,799.0 L1236.4,801.0 L1236.6,803.0 L1236.9,804.9 L1237.2,806.9 L1237.5,808.9 L1237.8,810.9 L1238.1,812.9 L1238.3,814.8 L1238.6,816.8 L1238.9,818.8 L1239.2,820.8 L1239.5,822.8 L1239.7,824.7 L1240.0,826.7 L1240.3,828.7 L1240.6,830.7 L1240.8,832.7 L1241.1,834.6 L1241.4,836.6 L1241.7,838.6 L1241.9,840.6 L1242.2,842.6 L1242.5,844.5 L1242.8,846.5 L1243.1,848.5 L1243.3,850.5 L1243.6,852.5 L1243.9,854.4 L1244.2,856.4 L1244.4,858.4 L1244.7,860.4 L1244.9,862.4 L1245.2,864.4 L1245.5,866.3 L1245.7,868.3 L1246.0,870.3 L1246.2,872.3 L1246.5,874.3 L1246.7,876.3 L1247.0,878.2 L1247.2,880.2 L1247.4,882.2 L1247.6,884.2 L1247.9,886.2 L1248.1,888.2 L1248.3,890.2 L1248.5,892.2 L1248.7,894.1 L1248.9,896.1 L1249.1,898.1 L1249.3,900.1 L1249.6,902.1 L1249.8,904.1 L1249.9,906.1 L1250.1,908.1 L1250.3,910.1 L1250.5,912.1 L1250.7,914.0 L1250.9,916.0 L1251.1,918.0 L1251.3,920.0 L1251.5,922.0 L1251.7,924.0 L1251.9,926.0 L1252.1,928.0 L1252.3,930.0 L1252.5,932.0 L1252.6,934.0 L1252.8,935.9 L1253.0,937.9 L1253.2,939.9 L1253.4,941.9 L1253.6,943.9 L1253.8,945.9 L1254.0,947.9 L1254.2,949.9 L1254.3,951.9 L1254.5,953.9 L1254.7,955.9 L1254.9,957.8 L1255.1,959.8 L1255.3,961.8 L1255.5,963.8 L1255.6,965.8 L1255.8,967.8 L1256.0,969.8 L1256.2,971.8 L1256.4,973.8 L1256.6,975.8 L1256.7,977.8 L1256.9,979.8 L1257.1,981.7 L1257.3,983.7 L1257.5,985.7 L1257.6,987.7 L1257.8,989.7 L1258.0,991.7 L1258.2,993.7 L1258.4,995.7 L1258.6,997.7 L1258.7,999.7 L1258.9,1001.7 L1259.1,1003.7 L1259.3,1005.6 L1259.5,1007.6 L1259.7,1009.6 L1259.8,1011.6 L1260.0,1013.6 L1260.2,1015.6 L1260.4,1017.6 L1260.6,1019.6 L1260.7,1021.6 L1260.9,1023.6 L1261.1,1025.6 L1261.3,1027.6 L1261.5,1029.5 L1261.7,1031.5 L1261.8,1033.5 L1262.0,1035.5 L1262.2,1037.5 L1262.4,1039.5 L1262.6,1041.5 L1262.8,1043.5 L1262.9,1045.5 L1263.1,1047.5 L1263.3,1049.5 L1263.5,1051.5 L1263.7,1053.4 L1263.9,1055.4 L1264.1,1057.4 L1264.3,1059.4 L1264.5,1061.4 L1264.7,1063.4 L1264.9,1065.4 L1265.1,1067.4 L1265.3,1069.4 L1265.5,1071.4 L1265.7,1073.3 L1265.9,1075.3 L1266.1,1077.3 L1266.3,1079.3 L1266.6,1081.3 L1266.8,1083.3 L1267.0,1085.3 L1267.2,1087.3 L1267.4,1089.3 L1267.6,1091.2 L1267.8,1093.2 L1268.0,1095.2 L1268.1,1097.2 L1268.3,1099.2 L1268.5,1101.2 L1268.7,1103.2 L1268.9,1105.2 L1269.0,1107.2 L1269.2,1109.2 L1269.4,1111.2 L1269.5,1113.2 L1269.7,1115.2 L1269.8,1117.1 L1270.0,1119.1 L1270.1,1121.1 L1270.3,1123.1 L1270.4,1125.1 L1270.6,1127.1 L1270.7,1129.1 L1270.8,1131.1 L1271.0,1133.1 L1271.1,1135.1 L1271.3,1137.1 L1271.4,1139.1 L1271.5,1141.1 L1271.6,1143.1 L1271.8,1145.1 L1271.9,1147.1 L1272.0,1149.1 L1272.1,1151.1 L1272.3,1153.1 L1272.4,1155.1 L1272.5,1157.1 L1272.6,1159.1 L1272.7,1161.1 L1272.9,1163.0 L1273.0,1165.0 L1273.1,1167.0 L1273.2,1169.0 L1273.3,1171.0 L1273.4,1173.0 L1273.4,1175.0 L1273.5,1177.0 L1273.6,1179.0 L1273.7,1181.0 L1273.8,1183.0 L1273.9,1185.0 L1274.0,1187.0 L1274.1,1189.0 L1274.2,1191.0 L1274.3,1193.0 L1274.4,1195.0 L1274.5,1197.0 L1274.6,1199.0 L1274.8,1201.0 L1275.0,1203.0 L1275.2,1205.0 L1275.4,1207.0 L1275.6,1209.0 L1275.8,1210.9 L1276.1,1212.9 L1276.3,1214.9 L1276.6,1216.9 L1276.9,1218.9 L1277.2,1220.8 L1277.5,1222.8 L1277.8,1224.8 L1278.2,1226.8 L1278.5,1228.7 L1278.8,1230.7 L1279.2,1232.7 L1279.5,1234.6 L1279.9,1236.6 L1280.3,1238.6 L1280.7,1240.5 L1281.2,1242.5 L1281.7,1244.4 L1282.4,1246.3 L1283.1,1248.1 L1283.9,1249.9 L1284.8,1251.7 L1285.8,1253.4 L1286.9,1255.1 L1288.1,1256.7 L1289.4,1258.2 L1290.7,1259.7 L1292.2,1261.0 L1293.7,1262.3 L1295.3,1263.5 L1296.9,1264.7 L1298.6,1265.8 L1300.3,1266.8 L1302.0,1267.8 L1303.8,1268.8 L1305.5,1269.8 L1307.3,1270.7 L1309.1,1271.6 L1310.9,1272.4 L1312.7,1273.3 L1314.6,1274.0 L1316.4,1274.8 L1318.3,1275.5 L1320.1,1276.2 L1322.0,1276.9 L1323.9,1277.5 L1325.8,1278.2 L1327.7,1278.8 L1329.6,1279.4 L1331.6,1279.9 L1333.5,1280.5 L1335.4,1281.0 L1337.3,1281.6 L1339.3,1282.1 L1341.2,1282.6 L1343.1,1283.1 L1345.1,1283.6 L1347.0,1284.0 L1349.0,1284.5 L1350.9,1284.9 L1352.9,1285.3 L1354.8,1285.8 L1356.8,1286.2 L1358.7,1286.6 L1360.7,1286.9 L1362.7,1287.3 L1364.6,1287.7 L1366.6,1288.0 L1368.6,1288.4 L1370.5,1288.7 L1372.5,1289.1 L1374.5,1289.4 L1376.5,1289.7 L1378.4,1290.0 L1380.4,1290.3 L1382.4,1290.6 L1384.4,1290.9 L1386.4,1291.2 L1388.3,1291.5 L1390.3,1291.8 L1392.3,1292.0 L1394.3,1292.3 L1396.3,1292.6 L1398.2,1292.8 L1400.2,1293.1 L1402.2,1293.4 L1404.2,1293.6 L1406.2,1293.9 L1408.2,1294.1 L1410.1,1294.3 L1412.1,1294.6 L1414.1,1294.8 L1416.1,1295.0 L1418.1,1295.3 L1420.1,1295.5 L1422.1,1295.7 L1424.1,1295.9 L1426.0,1296.2 L1428.0,1296.4 L1430.0,1296.6 L1432.0,1296.8 L1434.0,1297.0 L1436.0,1297.2 L1438.0,1297.4 L1440.0,1297.6 L1442.0,1297.8 L1444.0,1298.0 L1445.9,1298.2 L1447.9,1298.4 L1449.9,1298.5 L1451.9,1298.7 L1453.9,1298.9 L1455.9,1299.1 L1457.9,1299.3 L1459.9,1299.4 L1461.9,1299.6 L1463.9,1299.8 L1465.9,1300.0 L1467.9,1300.1 L1469.8,1300.3 L1471.8,1300.5 L1473.8,1300.6 L1475.8,1300.8 L1477.8,1301.0 L1479.8,1301.2 L1481.8,1301.3 L1483.8,1301.5 L1485.8,1301.6 L1487.8,1301.8 L1489.8,1302.0 L1491.8,1302.1 L1493.8,1302.3 L1495.8,1302.4 L1497.8,1302.6 L1499.7,1302.7 L1501.7,1302.9 L1503.7,1303.0 L1505.7,1303.2 L1507.7,1303.3 L1509.7,1303.4 L1511.7,1303.5 L1513.7,1303.7 L1515.7,1303.8 L1517.7,1303.9 L1519.7,1304.0 L1521.7,1304.1 L1523.7,1304.2 L1525.7,1304.3 L1527.7,1304.3 L1529.7,1304.4 L1531.7,1304.5 L1533.7,1304.6 L1535.7,1304.6 L1537.7,1304.7 L1539.7,1304.8 L1541.7,1304.9 L1543.7,1304.9 L1545.7,1305.0 L1547.7,1305.1 L1549.7,1305.2 L1551.7,1305.2 L1553.7,1305.3 L1555.7,1305.4 L1557.7,1305.5 L1559.7,1305.6 L1561.7,1305.7 L1563.7,1305.8 L1565.7,1305.9 L1567.7,1306.0 L1569.7,1306.1 L1571.7,1306.3 L1573.7,1306.4 L1575.6,1306.5 L1577.6,1306.7 L1579.6,1306.8 L1581.6,1307.0 L1583.6,1307.1 L1585.6,1307.2 L1587.6,1307.4 L1589.6,1307.5 L1591.6,1307.7 L1593.6,1307.8 L1595.6,1308.0 L1597.6,1308.2 L1599.6,1308.3 L1601.6,1308.5 L1603.6,1308.6 L1605.6,1308.8 L1607.6,1308.9 L1609.6,1309.1 L1611.5,1309.2 L1613.5,1309.4 L1615.5,1309.5 L1617.5,1309.7 L1619.5,1309.8 L1621.5,1310.0 L1623.5,1310.1 L1625.5,1310.3 L1627.5,1310.4 L1629.5,1310.5 L1631.5,1310.7 L1633.5,1310.8 L1635.5,1310.9 L1637.5,1311.0 L1639.5,1311.1 L1641.5,1311.3 L1643.5,1311.4 L1645.5,1311.5 L1647.5,1311.6 L1649.5,1311.7 L1651.5,1311.8 L1653.5,1311.9 L1655.5,1312.0 L1657.5,1312.1 L1659.4,1312.3 L1661.4,1312.4 L1663.4,1312.5 L1665.4,1312.6 L1667.4,1312.7 L1669.4,1312.8 L1671.4,1312.9 L1673.4,1313.0 L1675.4,1313.1 L1677.4,1313.2 L1679.4,1313.3 L1681.4,1313.4 L1683.4,1313.5 L1685.4,1313.6 L1687.4,1313.7 L1689.4,1313.8 L1691.4,1313.9 L1693.4,1313.9 L1695.4,1314.0 L1697.4,1314.1 L1699.4,1314.2 L1701.4,1314.3 L1703.4,1314.4 L1705.4,1314.5 L1707.4,1314.5 L1709.4,1314.6 L1711.4,1314.7 L1713.4,1314.8 L1715.4,1314.8 L1717.4,1314.9 L1719.4,1315.0 L1721.4,1315.0 L1723.4,1315.1 L1725.4,1315.2 L1727.4,1315.2 L1729.4,1315.3 L1731.4,1315.4 L1733.4,1315.4 L1735.4,1315.5 L1737.4,1315.5 L1739.4,1315.6 L1741.4,1315.6 L1743.4,1315.7 L1745.4,1315.7 L1747.4,1315.8 L1749.4,1315.9 L1751.4,1315.9 L1753.4,1316.0 L1755.4,1316.0 L1757.4,1316.1 L1759.4,1316.1 L1761.4,1316.2 L1763.4,1316.2 L1765.4,1316.3 L1767.4,1316.3 L1769.4,1316.4 L1771.4,1316.4 L1773.4,1316.5 L1775.4,1316.6 L1777.4,1316.6 L1779.4,1316.7 L1781.4,1316.7 L1783.4,1316.8 L1785.4,1316.9 L1787.4,1317.0 L1789.4,1317.0 L1791.4,1317.1 L1793.4,1317.2 L1795.4,1317.3 L1797.3,1317.3 L1799.3,1317.4 L1801.3,1317.5 L1803.3,1317.6 L1805.3,1317.7 L1807.3,1317.8 L1809.3,1317.9 L1811.3,1318.0 L1813.3,1318.1 L1815.3,1318.2 L1817.3,1318.3 L1819.3,1318.4 L1821.3,1318.5 L1823.3,1318.6 L1825.3,1318.7 L1827.3,1318.8 L1829.3,1318.9 L1831.3,1319.0 L1833.3,1319.1 L1835.3,1319.3 L1837.3,1319.4 L1839.3,1319.5 L1841.3,1319.6 L1843.3,1319.7 L1845.3,1319.8 L1847.3,1319.9 L1849.3,1320.0 L1851.3,1320.1 L1853.3,1320.2 L1855.3,1320.3 L1857.3,1320.4 L1859.3,1320.5 L1861.3,1320.6 L1863.3,1320.7 L1865.3,1320.8 L1867.3,1320.9 L1869.3,1321.0 L1871.3,1321.1 L1873.3,1321.2 L1875.2,1321.3 L1877.2,1321.4 L1879.2,1321.5 L1881.2,1321.5 L1883.2,1321.6 L1885.2,1321.7 L1887.2,1321.8 L1889.2,1321.8 L1891.2,1321.9 L1893.2,1322.0 L1895.2,1322.1 L1897.2,1322.2 L1899.2,1322.3 L1901.2,1322.4 L1903.2,1322.5 L1905.2,1322.6 L1907.2,1322.7 L1909.2,1322.8 L1911.2,1322.9 L1913.2,1323.0 L1915.2,1323.1 L1917.2,1323.3 L1919.2,1323.4 L1921.2,1323.5 L1923.2,1323.7 L1925.2,1323.8 L1927.2,1324.0 L1929.2,1324.1 L1931.2,1324.3 L1933.2,1324.5 L1935.1,1324.6 L1937.1,1324.8 L1939.1,1325.0 L1941.1,1325.2 L1943.1,1325.4 L1945.1,1325.5 L1947.1,1325.7 L1949.1,1325.9 L1951.1,1326.1 L1953.1,1326.3 L1955.1,1326.5 L1957.0,1326.7 L1959.0,1326.9 L1961.0,1327.1 L1963.0,1327.3 L1965.0,1327.5 L1967.0,1327.7 L1969.0,1327.9 L1971.0,1328.1 L1973.0,1328.3 L1975.0,1328.5 L1976.9,1328.7 L1978.9,1328.9 L1980.9,1329.1 L1982.9,1329.3 L1984.9,1329.5 L1986.9,1329.7 L1988.9,1329.9 L1990.9,1330.1 L1992.9,1330.3 L1994.9,1330.5 L1996.9,1330.7 L1998.8,1330.9 L2000.8,1331.0 L2002.8,1331.2 L2004.8,1331.4 L2006.8,1331.6 L2008.8,1331.8 L2010.8,1332.0 L2012.8,1332.2 L2014.8,1332.4 L2016.8,1332.6 L2018.7,1332.8 L2020.7,1333.0 L2022.7,1333.2 L2024.7,1333.4 L2026.7,1333.6 L2028.7,1333.8 L2030.7,1334.0 L2032.7,1334.2 L2034.7,1334.4 L2036.7,1334.6 L2038.6,1334.8 L2040.6,1335.0 L2042.6,1335.2 L2044.6,1335.4 L2046.6,1335.6 L2048.6,1335.8 L2050.6,1336.0 L2052.6,1336.2 L2054.6,1336.4 L2056.6,1336.6 L2058.5,1336.8 L2060.5,1337.0 L2062.5,1337.2 L2064.5,1337.4 L2066.5,1337.6 L2068.5,1337.8 L2070.5,1338.0 L2072.5,1338.2 L2074.5,1338.4 L2076.5,1338.6 L2078.4,1338.8 L2080.4,1339.0 L2082.4,1339.2 L2084.4,1339.4 L2086.4,1339.6 L2088.4,1339.8 L2090.4,1340.0 L2092.4,1340.2 L2094.4,1340.4 L2096.4,1340.6 L2098.3,1340.8 L2100.3,1341.0 L2102.3,1341.2 L2104.3,1341.4 L2106.3,1341.6 L2108.3,1341.8 L2110.3,1342.0 L2112.3,1342.2 L2114.3,1342.4 L2116.3,1342.6 L2118.2,1342.8 L2120.2,1343.0 L2122.2,1343.2 L2124.2,1343.4 L2126.2,1343.6 L2128.2,1343.8 L2130.2,1344.0 L2132.2,1344.2 L2134.2,1344.4 L2136.2,1344.6 L2138.1,1344.8 L2140.1,1345.0 L2142.1,1345.2 L2144.1,1345.4 L2146.1,1345.6 L2148.1,1345.8 L2150.1,1346.0 L2152.1,1346.2 L2154.1,1346.4 L2156.1,1346.6 L2158.0,1346.8 L2160.0,1347.0 L2162.0,1347.2 L2164.0,1347.4 L2166.0,1347.6 L2168.0,1347.8 L2170.0,1348.0 L2172.0,1348.2 L2174.0,1348.4 L2176.0,1348.6 L2178.0,1348.8 L2179.9,1349.0 L2181.9,1349.2 L2183.9,1349.4 L2185.8,1349.6 L2187.5,1349.7 L2189.0,1349.9 L2189.5,1349.9" fill="none" stroke="#008000" stroke-width="5.0" stroke-linejoin="round" stroke-linecap="butt"/>
<path d="M331.4,91.4 L332.6,91.4 L334.2,91.4 L336.1,91.4 L338.0,91.5 L340.0,91.6 L342.0,91.7 L344.0,92.0 L345.9,92.3 L347.9,92.6 L349.9,93.0 L351.8,93.4 L353.8,93.8 L355.8,94.2 L357.7,94.5 L359.7,94.8 L361.7,95.0 L363.7,95.2 L365.7,95.2 L367.7,95.3 L369.7,95.3 L371.7,95.3 L373.7,95.3 L375.7,95.4 L377.7,95.4 L379.7,95.4 L381.7,95.4 L383.7,95.4 L385.7,95.4 L387.7,95.4 L389.7,95.4 L391.7,95.4 L393.7,95.4 L395.7,95.4 L397.7,95.4 L399.7,95.4 L401.7,95.4 L403.7,95.4 L405.7,95.4 L407.7,95.4 L409.7,95.4 L411.7,95.4 L413.7,95.5 L415.7,95.5 L417.6,95.6 L419.6,95.7 L421.6,96.0 L423.5,96.3 L425.4,96.7 L427.4,96.9 L429.4,97.1 L431.4,97.1 L433.4,97.2 L435.4,97.2 L437.4,97.2 L439.4,97.3 L441.4,97.3 L443.4,97.3 L445.4,97.3 L447.4,97.3 L449.4,97.3 L451.4,97.3 L453.4,97.3 L455.4,97.3 L457.4,97.4 L459.4,97.4 L461.4,97.4 L463.4,97.4 L465.4,97.4 L467.4,97.5 L469.4,97.5 L471.4,97.6 L473.3,97.7 L475.3,97.8 L477.3,97.9 L479.3,98.0 L481.3,98.2 L483.3,98.3 L485.3,98.5 L487.3,98.7 L489.3,98.9 L491.3,99.0 L493.3,99.2 L495.3,99.4 L497.3,99.6 L499.3,99.8 L501.3,99.9 L503.2,100.1 L505.2,100.2 L507.2,100.3 L509.2,100.4 L511.2,100.5 L513.2,100.5 L515.2,100.6 L517.2,100.6 L519.2,100.6 L521.2,100.6 L523.2,100.7 L525.2,100.7 L527.2,100.7 L529.2,100.7 L531.2,100.7 L533.2,100.7 L535.2,100.7 L537.2,100.7 L539.2,100.7 L541.2,100.7 L543.2,100.7 L545.2,100.8 L547.2,100.8 L549.2,100.8 L551.2,100.8 L553.2,100.8 L555.2,100.8 L557.2,100.8 L559.2,100.8 L561.2,100.8 L563.2,100.8 L565.2,100.8 L567.2,100.8 L569.2,100.8 L571.2,100.8 L573.2,100.8 L575.2,100.8 L577.2,100.8 L579.2,100.8 L581.2,100.8 L583.2,100.8 L585.2,100.8 L587.2,100.8 L589.2,100.8 L591.2,100.9 L593.2,100.9 L595.2,100.9 L597.2,100.9 L599.2,100.9 L601.2,100.9 L603.2,100.9 L605.2,100.9 L607.2,100.9 L609.2,100.9 L611.2,100.9 L613.2,101.0 L615.2,101.0 L617.2,101.0 L619.2,101.0 L621.2,101.1 L623.2,101.2 L625.2,101.3 L627.2,101.4 L629.2,101.5 L631.2,101.7 L633.2,101.9 L635.2,102.1 L637.2,102.3 L639.2,102.5 L641.2,102.7 L643.2,102.9 L645.1,103.1 L647.1,103.2 L649.1,103.4 L651.1,103.6 L653.1,103.7 L655.1,103.8 L657.1,103.9 L659.1,103.9 L661.1,104.0 L663.1,104.0 L665.1,104.0 L667.1,104.0 L669.1,104.0 L671.1,104.0 L673.1,104.0 L675.1,103.9 L677.1,103.9 L679.1,103.9 L681.1,103.9 L683.1,103.9 L685.1,103.9 L687.1,103.8 L689.1,103.8 L691.1,103.8 L693.1,103.8 L695.1,103.8 L697.1,103.7 L699.1,103.7 L701.1,103.7 L703.1,103.7 L705.1,103.6 L707.1,103.6 L709.1,103.6 L711.1,103.6 L713.1,103.6 L715.1,103.6 L717.1,103.5 L719.1,103.5 L721.1,103.5 L723.1,103.5 L725.1,103.5 L727.1,103.5 L729.1,103.5 L731.1,103.5 L733.1,103.5 L735.1,103.5 L737.1,103.5 L739.1,103.5 L741.1,103.5 L743.1,103.5 L745.1,103.5 L747.1,103.5 L749.1,103.5 L751.1,103.5 L753.1,103.5 L755.1,103.5 L757.1,103.5 L759.1,103.5 L761.1,103.5 L763.1,103.6 L765.1,103.6 L767.1,103.6 L769.1,103.6 L771.1,103.6 L773.1,103.6 L775.1,103.6 L777.1,103.6 L779.1,103.6 L781.1,103.6 L783.1,103.6 L785.1,103.7 L787.1,103.7 L789.1,103.7 L791.1,103.7 L793.1,103.7 L795.1,103.7 L797.1,103.7 L799.1,103.8 L801.1,103.8 L803.1,103.8 L805.1,103.8 L807.1,103.8 L809.1,103.9 L811.1,103.9 L813.1,103.9 L815.1,103.9 L817.1,103.9 L819.1,104.0 L821.1,104.0 L823.1,104.1 L825.1,104.2 L827.1,104.4 L829.1,104.6 L831.1,104.8 L833.0,105.1 L835.0,105.4 L837.0,105.7 L839.0,105.9 L841.0,106.2 L842.9,106.5 L844.9,106.7 L846.9,106.8 L848.9,106.9 L850.9,107.0 L852.9,107.1 L854.9,107.1 L856.9,107.2 L858.9,107.2 L860.9,107.2 L862.9,107.3 L864.9,107.3 L866.9,107.3 L868.9,107.3 L870.9,107.4 L872.9,107.4 L874.9,107.4 L876.9,107.5 L878.9,107.5 L880.9,107.6 L882.9,107.7 L884.9,107.9 L886.9,108.1 L888.9,108.4 L890.8,108.7 L892.8,109.1 L894.8,109.5 L896.7,109.9 L898.7,110.3 L900.6,110.6 L902.6,111.0 L904.6,111.3 L906.6,111.7 L908.5,112.0 L910.5,112.3 L912.5,112.6 L914.4,113.0 L916.4,113.3 L918.4,113.6 L920.4,114.0 L922.3,114.4 L924.3,114.8 L926.2,115.2 L928.2,115.6 L930.1,116.1 L932.1,116.6 L934.0,117.1 L935.9,117.6 L937.9,118.2 L939.8,118.7 L941.7,119.2 L943.6,119.7 L945.6,120.2 L947.5,120.7 L949.4,121.3 L951.4,121.8 L953.3,122.4 L955.2,123.0 L957.1,123.6 L959.0,124.3 L960.8,125.1 L962.7,125.8 L964.5,126.6 L966.4,127.4 L968.2,128.1 L970.0,128.9 L971.9,129.7 L973.7,130.5 L975.6,131.3 L977.4,132.1 L979.2,132.9 L981.0,133.7 L982.9,134.5 L984.7,135.4 L986.4,136.3 L988.2,137.3 L989.9,138.3 L991.5,139.4 L993.1,140.6 L994.7,141.9 L996.3,143.1 L997.8,144.4 L999.4,145.6 L1000.9,146.9 L1002.5,148.1 L1004.1,149.3 L1005.7,150.5 L1007.3,151.7 L1008.9,153.0 L1010.4,154.2 L1012.0,155.5 L1013.5,156.8 L1015.0,158.1 L1016.4,159.5 L1017.9,160.9 L1019.3,162.3 L1020.7,163.7 L1022.1,165.2 L1023.5,166.6 L1024.8,168.1 L1026.2,169.5 L1027.5,171.0 L1028.9,172.5 L1030.3,173.9 L1031.6,175.4 L1032.9,176.9 L1034.3,178.4 L1035.6,179.9 L1036.9,181.4 L1038.2,182.9 L1039.5,184.4 L1040.8,185.9 L1042.1,187.5 L1043.4,189.0 L1044.8,190.5 L1046.1,192.0 L1047.5,193.4 L1048.8,194.9 L1050.2,196.3 L1051.5,197.8 L1052.8,199.3 L1054.0,200.9 L1055.1,202.6 L1056.2,204.3 L1057.1,206.1 L1057.9,207.9 L1058.6,209.7 L1059.2,211.6 L1059.8,213.5 L1060.5,215.4 L1061.1,217.3 L1061.8,219.2 L1062.5,221.1 L1063.2,222.9 L1063.9,224.8 L1064.6,226.7 L1065.2,228.6 L1065.9,230.5 L1066.6,232.4 L1067.2,234.3 L1067.8,236.2 L1068.4,238.1 L1069.0,240.0 L1069.6,241.9 L1070.2,243.8 L1070.8,245.7 L1071.4,247.6 L1072.0,249.5 L1072.6,251.4 L1073.2,253.3 L1073.8,255.2 L1074.4,257.2 L1075.0,259.1 L1075.5,261.0 L1076.1,262.9 L1076.6,264.8 L1077.2,266.8 L1077.7,268.7 L1078.2,270.6 L1078.8,272.5 L1079.3,274.5 L1079.8,276.4 L1080.3,278.3 L1080.9,280.3 L1081.4,282.2 L1081.9,284.1 L1082.4,286.1 L1082.9,288.0 L1083.5,289.9 L1084.0,291.8 L1084.5,293.8 L1085.0,295.7 L1085.5,297.6 L1086.1,299.6 L1086.6,301.5 L1087.1,303.4 L1087.7,305.4 L1088.2,307.3 L1088.7,309.2 L1089.3,311.1 L1089.8,313.1 L1090.4,315.0 L1090.9,316.9 L1091.5,318.8 L1092.0,320.8 L1092.6,322.7 L1093.1,324.6 L1093.6,326.5 L1094.2,328.5 L1094.7,330.4 L1095.2,332.3 L1095.8,334.2 L1096.3,336.2 L1096.8,338.1 L1097.3,340.0 L1097.9,342.0 L1098.4,343.9 L1098.9,345.8 L1099.5,347.7 L1100.1,349.6 L1100.8,351.5 L1101.5,353.4 L1102.2,355.2 L1103.0,357.1 L1103.7,358.9 L1104.5,360.8 L1105.2,362.7 L1105.9,364.5 L1106.6,366.4 L1107.3,368.3 L1108.0,370.1 L1108.7,372.0 L1109.5,373.9 L1110.2,375.8 L1110.9,377.6 L1111.7,379.5 L1112.5,381.3 L1113.3,383.1 L1114.2,384.9 L1115.2,386.6 L1116.2,388.3 L1117.3,390.0 L1118.3,391.7 L1119.4,393.4 L1120.4,395.2 L1121.3,396.9 L1122.3,398.7 L1123.1,400.5 L1124.0,402.3 L1124.9,404.1 L1125.8,405.9 L1126.7,407.7 L1127.6,409.5 L1128.5,411.2 L1129.4,413.0 L1130.3,414.8 L1131.2,416.6 L1132.0,418.4 L1132.9,420.2 L1133.7,422.0 L1134.5,423.9 L1135.3,425.7 L1136.0,427.6 L1136.7,429.4 L1137.4,431.3 L1138.0,433.2 L1138.6,435.1 L1139.2,437.0 L1139.8,438.9 L1140.3,440.9 L1140.8,442.8 L1141.3,444.7 L1141.8,446.7 L1142.3,448.6 L1142.8,450.6 L1143.3,452.5 L1143.8,454.4 L1144.3,456.4 L1144.8,458.3 L1145.3,460.2 L1145.8,462.2 L1146.3,464.1 L1146.9,466.0 L1147.4,468.0 L1147.9,469.9 L1148.4,471.8 L1148.9,473.8 L1149.5,475.7 L1150.0,477.6 L1150.5,479.6 L1151.0,481.5 L1151.5,483.4 L1152.1,485.4 L1152.6,487.3 L1153.1,489.2 L1153.6,491.1 L1154.1,493.1 L1154.6,495.0 L1155.1,496.9 L1155.7,498.9 L1156.2,500.8 L1156.7,502.7 L1157.2,504.7 L1157.7,506.6 L1158.2,508.5 L1158.7,510.5 L1159.2,512.4 L1159.8,514.3 L1160.3,516.3 L1160.8,518.2 L1161.3,520.2 L1161.8,522.1 L1162.3,524.0 L1162.7,526.0 L1163.2,527.9 L1163.7,529.9 L1164.2,531.8 L1164.6,533.7 L1165.1,535.7 L1165.5,537.6 L1166.0,539.6 L1166.4,541.5 L1166.9,543.5 L1167.3,545.4 L1167.7,547.4 L1168.1,549.4 L1168.5,551.3 L1168.9,553.3 L1169.3,555.2 L1169.7,557.2 L1170.1,559.2 L1170.5,561.1 L1170.9,563.1 L1171.3,565.0 L1171.7,567.0 L1172.1,569.0 L1172.5,570.9 L1172.9,572.9 L1173.3,574.8 L1173.7,576.8 L1174.1,578.8 L1174.4,580.7 L1174.8,582.7 L1175.2,584.6 L1175.6,586.6 L1176.0,588.6 L1176.4,590.5 L1176.8,592.5 L1177.2,594.5 L1177.6,596.4 L1178.0,598.4 L1178.4,600.3 L1178.8,602.3 L1179.2,604.3 L1179.6,606.2 L1179.9,608.2 L1180.3,610.1 L1180.7,612.1 L1181.1,614.1 L1181.5,616.0 L1181.8,618.0 L1182.2,620.0 L1182.6,621.9 L1183.0,623.9 L1183.3,625.9 L1183.7,627.8 L1184.1,629.8 L1184.5,631.8 L1184.8,633.7 L1185.2,635.7 L1185.6,637.6 L1185.9,639.6 L1186.3,641.6 L1186.6,643.5 L1187.0,645.5 L1187.4,647.5 L1187.7,649.5 L1188.1,651.4 L1188.4,653.4 L1188.8,655.4 L1189.1,657.3 L1189.5,659.3 L1189.8,661.3 L1190.1,663.2 L1190.5,665.2 L1190.8,667.2 L1191.1,669.2 L1191.5,671.1 L1191.8,673.1 L1192.1,675.1 L1192.4,677.1 L1192.7,679.0 L1193.1,681.0 L1193.4,683.0 L1193.7,685.0 L1194.0,686.9 L1194.3,688.9 L1194.7,690.9 L1195.0,692.8 L1195.3,694.8 L1195.7,696.8 L1196.0,698.8 L1196.3,700.7 L1196.7,702.7 L1197.0,704.7 L1197.4,706.6 L1197.7,708.6 L1198.1,710.6 L1198.5,712.5 L1198.9,714.5 L1199.3,716.5 L1199.7,718.4 L1200.1,720.4 L1200.5,722.3 L1200.9,724.3 L1201.3,726.3 L1201.7,728.2 L1202.1,730.2 L1202.6,732.1 L1203.0,734.1 L1203.4,736.0 L1203.8,738.0 L1204.3,739.9 L1204.7,741.9 L1205.1,743.8 L1205.5,745.8 L1206.0,747.8 L1206.4,749.7 L1206.8,751.7 L1207.2,753.6 L1207.6,755.6 L1208.0,757.5 L1208.4,759.5 L1208.8,761.5 L1209.2,763.4 L1209.6,765.4 L1210.0,767.3 L1210.4,769.3 L1210.8,771.3 L1211.2,773.2 L1211.6,775.2 L1212.0,777.1 L1212.4,779.1 L1212.8,781.0 L1213.2,783.0 L1213.6,785.0 L1214.0,786.9 L1214.4,788.9 L1214.8,790.9 L1215.2,792.8 L1215.5,794.8 L1215.9,796.8 L1216.3,798.7 L1216.6,800.7 L1217.0,802.7 L1217.3,804.6 L1217.7,806.6 L1218.0,808.6 L1218.4,810.5 L1218.7,812.5 L1219.0,814.5 L1219.4,816.5 L1219.7,818.4 L1220.0,820.4 L1220.3,822.4 L1220.7,824.3 L1221.0,826.3 L1221.3,828.3 L1221.6,830.3 L1221.9,832.2 L1222.3,834.2 L1222.6,836.2 L1222.9,838.2 L1223.2,840.1 L1223.5,842.1 L1223.9,844.1 L1224.2,846.1 L1224.5,848.0 L1224.8,850.0 L1225.2,852.0 L1225.5,854.0 L1225.8,855.9 L1226.1,857.9 L1226.5,859.9 L1226.8,861.8 L1227.1,863.8 L1227.5,865.8 L1227.8,867.8 L1228.1,869.7 L1228.4,871.7 L1228.8,873.7 L1229.1,875.7 L1229.4,877.6 L1229.8,879.6 L1230.1,881.6 L1230.4,883.5 L1230.8,885.5 L1231.1,887.5 L1231.4,889.5 L1231.7,891.4 L1232.1,893.4 L1232.4,895.4 L1232.7,897.4 L1233.1,899.3 L1233.4,901.3 L1233.7,903.3 L1234.0,905.2 L1234.4,907.2 L1234.7,909.2 L1235.0,911.2 L1235.3,913.1 L1235.7,915.1 L1236.0,917.1 L1236.3,919.1 L1236.7,921.0 L1237.0,923.0 L1237.3,925.0 L1237.6,926.9 L1238.0,928.9 L1238.3,930.9 L1238.6,932.9 L1238.9,934.8 L1239.3,936.8 L1239.6,938.8 L1239.9,940.8 L1240.2,942.7 L1240.5,944.7 L1240.8,946.7 L1241.1,948.7 L1241.4,950.7 L1241.7,952.6 L1242.0,954.6 L1242.2,956.6 L1242.5,958.6 L1242.8,960.6 L1243.0,962.5 L1243.3,964.5 L1243.5,966.5 L1243.8,968.5 L1244.0,970.5 L1244.3,972.5 L1244.5,974.5 L1244.7,976.4 L1245.0,978.4 L1245.2,980.4 L1245.4,982.4 L1245.7,984.4 L1245.9,986.4 L1246.2,988.4 L1246.4,990.3 L1246.6,992.3 L1246.9,994.3 L1247.1,996.3 L1247.4,998.3 L1247.6,1000.3 L1247.9,1002.2 L1248.1,1004.2 L1248.4,1006.2 L1248.6,1008.2 L1248.9,1010.2 L1249.2,1012.2 L1249.4,1014.1 L1249.7,1016.1 L1250.0,1018.1 L1250.2,1020.1 L1250.5,1022.1 L1250.7,1024.1 L1251.0,1026.0 L1251.3,1028.0 L1251.5,1030.0 L1251.8,1032.0 L1252.0,1034.0 L1252.3,1036.0 L1252.6,1037.9 L1252.8,1039.9 L1253.1,1041.9 L1253.3,1043.9 L1253.6,1045.9 L1253.8,1047.9 L1254.1,1049.8 L1254.3,1051.8 L1254.6,1053.8 L1254.8,1055.8 L1255.1,1057.8 L1255.3,1059.8 L1255.5,1061.8 L1255.8,1063.7 L1256.0,1065.7 L1256.2,1067.7 L1256.4,1069.7 L1256.7,1071.7 L1256.9,1073.7 L1257.1,1075.7 L1257.3,1077.7 L1257.5,1079.6 L1257.8,1081.6 L1258.0,1083.6 L1258.2,1085.6 L1258.5,1087.6 L1258.7,1089.6 L1258.9,1091.6 L1259.2,1093.5 L1259.5,1095.5 L1259.7,1097.5 L1260.0,1099.5 L1260.4,1101.5 L1260.7,1103.4 L1261.0,1105.4 L1261.3,1107.4 L1261.7,1109.3 L1262.1,1111.3 L1262.4,1113.3 L1262.8,1115.2 L1263.2,1117.2 L1263.6,1119.2 L1264.0,1121.1 L1264.4,1123.1 L1264.9,1125.0 L1265.3,1127.0 L1265.7,1128.9 L1266.2,1130.9 L1266.6,1132.8 L1267.0,1134.8 L1267.4,1136.7 L1267.9,1138.7 L1268.3,1140.7 L1268.7,1142.6 L1269.1,1144.6 L1269.5,1146.5 L1269.9,1148.5 L1270.4,1150.4 L1270.8,1152.4 L1271.2,1154.3 L1271.7,1156.3 L1272.1,1158.2 L1272.6,1160.2 L1273.1,1162.1 L1273.7,1164.0 L1274.3,1165.9 L1274.9,1167.8 L1275.6,1169.7 L1276.4,1171.6 L1277.2,1173.4 L1278.0,1175.2 L1278.9,1177.0 L1279.8,1178.8 L1280.8,1180.5 L1281.8,1182.3 L1282.8,1184.0 L1283.9,1185.6 L1285.0,1187.3 L1286.1,1189.0 L1287.2,1190.6 L1288.4,1192.2 L1289.6,1193.8 L1290.8,1195.4 L1292.1,1197.0 L1293.4,1198.5 L1294.7,1200.0 L1296.1,1201.4 L1297.6,1202.7 L1299.1,1204.0 L1300.7,1205.2 L1302.4,1206.3 L1304.0,1207.4 L1305.7,1208.5 L1307.5,1209.4 L1309.2,1210.4 L1311.0,1211.3 L1312.8,1212.2 L1314.6,1213.0 L1316.5,1213.8 L1318.3,1214.6 L1320.2,1215.4 L1322.0,1216.1 L1323.9,1216.9 L1325.7,1217.6 L1327.6,1218.3 L1329.4,1219.1 L1331.3,1219.8 L1333.1,1220.6 L1335.0,1221.4 L1336.8,1222.1 L1338.7,1222.9 L1340.5,1223.6 L1342.4,1224.4 L1344.3,1225.1 L1346.1,1225.8 L1348.0,1226.5 L1349.9,1227.2 L1351.8,1227.9 L1353.6,1228.6 L1355.5,1229.3 L1357.4,1230.0 L1359.3,1230.7 L1361.1,1231.3 L1363.0,1232.0 L1364.9,1232.7 L1366.8,1233.4 L1368.7,1234.0 L1370.6,1234.7 L1372.4,1235.4 L1374.3,1236.1 L1376.2,1236.8 L1378.1,1237.5 L1379.9,1238.2 L1381.8,1238.9 L1383.7,1239.6 L1385.5,1240.3 L1387.4,1241.0 L1389.3,1241.8 L1391.1,1242.5 L1393.0,1243.2 L1394.8,1244.0 L1396.7,1244.7 L1398.6,1245.5 L1400.4,1246.2 L1402.3,1247.0 L1404.1,1247.7 L1406.0,1248.5 L1407.8,1249.2 L1409.7,1250.0 L1411.6,1250.7 L1413.4,1251.4 L1415.3,1252.2 L1417.1,1252.9 L1419.0,1253.7 L1420.8,1254.4 L1422.7,1255.1 L1424.6,1255.9 L1426.4,1256.6 L1428.3,1257.4 L1430.1,1258.1 L1432.0,1258.8 L1433.8,1259.6 L1435.7,1260.3 L1437.6,1261.1 L1439.4,1261.8 L1441.3,1262.6 L1443.1,1263.4 L1444.9,1264.2 L1446.8,1265.0 L1448.6,1265.8 L1450.4,1266.6 L1452.3,1267.3 L1454.1,1268.1 L1456.0,1268.9 L1457.8,1269.6 L1459.7,1270.3 L1461.6,1270.9 L1463.5,1271.5 L1465.4,1272.1 L1467.3,1272.6 L1469.3,1273.1 L1471.2,1273.6 L1473.2,1274.1 L1475.1,1274.5 L1477.1,1274.9 L1479.0,1275.4 L1481.0,1275.7 L1483.0,1276.1 L1484.9,1276.4 L1486.9,1276.7 L1488.9,1277.0 L1490.9,1277.3 L1492.9,1277.5 L1494.8,1277.7 L1496.8,1277.9 L1498.8,1278.1 L1500.8,1278.3 L1502.8,1278.4 L1504.8,1278.6 L1506.8,1278.7 L1508.8,1278.9 L1510.8,1279.0 L1512.8,1279.1 L1514.8,1279.3 L1516.8,1279.4 L1518.8,1279.5 L1520.8,1279.7 L1522.8,1279.8 L1524.8,1279.9 L1526.8,1280.1 L1528.8,1280.2 L1530.8,1280.3 L1532.7,1280.4 L1534.7,1280.6 L1536.7,1280.7 L1538.7,1280.8 L1540.7,1280.9 L1542.7,1281.0 L1544.7,1281.1 L1546.7,1281.2 L1548.7,1281.4 L1550.7,1281.5 L1552.7,1281.6 L1554.7,1281.7 L1556.7,1281.8 L1558.7,1281.9 L1560.7,1282.0 L1562.7,1282.2 L1564.7,1282.3 L1566.7,1282.4 L1568.7,1282.5 L1570.7,1282.6 L1572.7,1282.7 L1574.7,1282.8 L1576.7,1283.0 L1578.7,1283.1 L1580.7,1283.2 L1582.7,1283.3 L1584.7,1283.4 L1586.7,1283.5 L1588.7,1283.6 L1590.7,1283.7 L1592.6,1283.9 L1594.6,1284.0 L1596.6,1284.1 L1598.6,1284.2 L1600.6,1284.3 L1602.6,1284.4 L1604.6,1284.5 L1606.6,1284.6 L1608.6,1284.7 L1610.6,1284.9 L1612.6,1285.0 L1614.6,1285.1 L1616.6,1285.2 L1618.6,1285.3 L1620.6,1285.4 L1622.6,1285.5 L1624.6,1285.6 L1626.6,1285.7 L1628.6,1285.8 L1630.6,1286.0 L1632.6,1286.1 L1634.6,1286.2 L1636.6,1286.3 L1638.6,1286.4 L1640.6,1286.5 L1642.6,1286.6 L1644.6,1286.7 L1646.6,1286.8 L1648.6,1286.9 L1650.6,1287.0 L1652.6,1287.1 L1654.6,1287.3 L1656.6,1287.4 L1658.5,1287.5 L1660.5,1287.6 L1662.5,1287.7 L1664.5,1287.8 L1666.5,1287.9 L1668.5,1288.0 L1670.5,1288.1 L1672.5,1288.2 L1674.5,1288.3 L1676.5,1288.4 L1678.5,1288.5 L1680.5,1288.7 L1682.5,1288.8 L1684.5,1288.9 L1686.5,1289.0 L1688.5,1289.1 L1690.5,1289.2 L1692.5,1289.3 L1694.5,1289.4 L1696.5,1289.5 L1698.5,1289.6 L1700.5,1289.7 L1702.5,1289.8 L1704.5,1289.9 L1706.5,1290.0 L1708.5,1290.1 L1710.5,1290.2 L1712.5,1290.3 L1714.5,1290.4 L1716.5,1290.5 L1718.5,1290.6 L1720.5,1290.7 L1722.5,1290.8 L1724.5,1290.9 L1726.5,1291.0 L1728.5,1291.1 L1730.5,1291.2 L1732.5,1291.3 L1734.4,1291.4 L1736.4,1291.5 L1738.4,1291.6 L1740.4,1291.7 L1742.4,1291.8 L1744.4,1291.9 L1746.4,1292.0 L1748.4,1292.1 L1750.4,1292.2 L1752.4,1292.2 L1754.4,1292.3 L1756.4,1292.4 L1758.4,1292.5 L1760.4,1292.6 L1762.4,1292.7 L1764.4,1292.8 L1766.4,1292.9 L1768.4,1293.0 L1770.4,1293.1 L1772.4,1293.2 L1774.4,1293.3 L1776.4,1293.3 L1778.4,1293.4 L1780.4,1293.5 L1782.4,1293.6 L1784.4,1293.7 L1786.4,1293.8 L1788.4,1293.9 L1790.4,1294.0 L1792.4,1294.0 L1794.4,1294.1 L1796.4,1294.2 L1798.4,1294.3 L1800.4,1294.4 L1802.4,1294.4 L1804.4,1294.5 L1806.4,1294.6 L1808.4,1294.7 L1810.4,1294.7 L1812.4,1294.8 L1814.4,1294.9 L1816.4,1294.9 L1818.4,1295.0 L1820.4,1295.1 L1822.4,1295.1 L1824.4,1295.2 L1826.4,1295.3 L1828.4,1295.3 L1830.4,1295.4 L1832.4,1295.5 L1834.4,1295.6 L1836.4,1295.6 L1838.4,1295.7 L1840.4,1295.8 L1842.4,1295.8 L1844.4,1295.9 L1846.4,1296.0 L1848.4,1296.1 L1850.3,1296.2 L1852.3,1296.2 L1854.3,1296.3 L1856.3,1296.4 L1858.3,1296.5 L1860.3,1296.6 L1862.3,1296.7 L1864.3,1296.8 L1866.3,1296.9 L1868.3,1297.0 L1870.3,1297.1 L1872.3,1297.2 L1874.3,1297.3 L1876.3,1297.4 L1878.3,1297.6 L1880.3,1297.7 L1882.3,1297.8 L1884.3,1298.0 L1886.3,1298.1 L1888.3,1298.2 L1890.3,1298.4 L1892.3,1298.5 L1894.3,1298.7 L1896.3,1298.8 L1898.3,1299.0 L1900.3,1299.2 L1902.2,1299.3 L1904.2,1299.5 L1906.2,1299.7 L1908.2,1299.8 L1910.2,1300.0 L1912.2,1300.2 L1914.2,1300.4 L1916.2,1300.6 L1918.2,1300.8 L1920.2,1301.0 L1922.2,1301.2 L1924.1,1301.4 L1926.1,1301.6 L1928.1,1301.9 L1930.1,1302.1 L1932.1,1302.3 L1934.1,1302.6 L1936.1,1302.8 L1938.1,1303.1 L1940.0,1303.3 L1942.0,1303.6 L1944.0,1303.8 L1946.0,1304.1 L1948.0,1304.3 L1950.0,1304.6 L1951.9,1304.9 L1953.9,1305.1 L1955.9,1305.4 L1957.9,1305.6 L1959.9,1305.9 L1961.8,1306.2 L1963.8,1306.5 L1965.8,1306.7 L1967.8,1307.0 L1969.8,1307.3 L1971.8,1307.5 L1973.7,1307.8 L1975.7,1308.0 L1977.7,1308.3 L1979.7,1308.6 L1981.7,1308.8 L1983.7,1309.1 L1985.6,1309.3 L1987.6,1309.6 L1989.6,1309.8 L1991.6,1310.1 L1993.6,1310.3 L1995.6,1310.6 L1997.5,1310.8 L1999.5,1311.0 L2001.5,1311.3 L2003.5,1311.5 L2005.5,1311.8 L2007.5,1312.0 L2009.5,1312.3 L2011.4,1312.5 L2013.4,1312.7 L2015.4,1313.0 L2017.4,1313.2 L2019.4,1313.5 L2021.4,1313.7 L2023.4,1313.9 L2025.3,1314.2 L2027.3,1314.4 L2029.3,1314.7 L2031.3,1314.9 L2033.3,1315.2 L2035.3,1315.4 L2037.3,1315.6 L2039.2,1315.9 L2041.2,1316.1 L2043.2,1316.4 L2045.2,1316.6 L2047.2,1316.8 L2049.2,1317.1 L2051.2,1317.3 L2053.1,1317.6 L2055.1,1317.8 L2057.1,1318.0 L2059.1,1318.3 L2061.1,1318.5 L2063.1,1318.7 L2065.1,1319.0 L2067.0,1319.2 L2069.0,1319.5 L2071.0,1319.7 L2073.0,1319.9 L2075.0,1320.2 L2077.0,1320.4 L2079.0,1320.6 L2080.9,1320.9 L2082.9,1321.1 L2084.9,1321.3 L2086.9,1321.6 L2088.9,1321.8 L2090.9,1322.0 L2092.9,1322.3 L2094.8,1322.5 L2096.8,1322.7 L2098.8,1323.0 L2100.8,1323.2 L2102.8,1323.4 L2104.8,1323.7 L2106.8,1323.9 L2108.8,1324.1 L2110.7,1324.4 L2112.7,1324.6 L2114.7,1324.8 L2116.7,1325.1 L2118.7,1325.3 L2120.7,1325.5 L2122.7,1325.8 L2124.6,1326.0 L2126.6,1326.2 L2128.6,1326.5 L2130.6,1326.7 L2132.6,1326.9 L2134.6,1327.1 L2136.6,1327.4 L2138.6,1327.6 L2140.5,1327.8 L2142.5,1328.1 L2144.5,1328.3 L2146.5,1328.5 L2148.5,1328.7 L2150.5,1329.0 L2152.5,1329.2 L2154.4,1329.4 L2156.4,1329.7 L2158.4,1329.9 L2160.4,1330.1 L2162.4,1330.4 L2164.4,1330.6 L2166.4,1330.8 L2168.4,1331.0 L2170.3,1331.3 L2172.3,1331.5 L2174.3,1331.7 L2176.3,1332.0 L2178.3,1332.2 L2180.3,1332.4 L2182.3,1332.7 L2184.2,1332.9 L2186.1,1333.1 L2187.9,1333.3 L2189.3,1333.5 L2189.8,1333.5" fill="none" stroke="#0a7cc6" stroke-width="5.0" stroke-linejoin="round" stroke-linecap="butt"/>
<path d="M331.4,89.1 L332.6,89.1 L334.2,89.1 L336.1,89.1 L338.0,89.1 L340.0,89.1 L342.0,89.2 L344.0,89.2 L346.0,89.2 L348.0,89.2 L350.0,89.2 L352.0,89.2 L354.0,89.2 L356.0,89.2 L358.0,89.2 L360.0,89.2 L362.0,89.2 L364.0,89.2 L366.0,89.2 L368.0,89.2 L370.0,89.2 L372.0,89.2 L374.0,89.2 L376.0,89.2 L378.0,89.3 L380.0,89.3 L382.0,89.3 L384.0,89.3 L386.0,89.3 L388.0,89.3 L390.0,89.3 L392.0,89.3 L394.0,89.3 L396.0,89.3 L398.0,89.4 L400.0,89.4 L402.0,89.4 L404.0,89.4 L406.0,89.4 L408.0,89.5 L410.0,89.5 L412.0,89.5 L414.0,89.5 L416.0,89.6 L418.0,89.7 L419.9,89.9 L421.9,90.3 L423.8,90.8 L425.7,91.2 L427.7,91.6 L429.6,91.8 L431.6,91.9 L433.6,92.0 L435.6,92.0 L437.6,92.0 L439.6,92.0 L441.6,92.0 L443.6,91.9 L445.6,91.8 L447.5,91.6 L449.4,91.2 L451.4,90.7 L453.3,90.3 L455.2,89.9 L457.2,89.7 L459.2,89.6 L461.2,89.6 L463.2,89.6 L465.2,89.6 L467.2,89.6 L469.2,89.6 L471.2,89.6 L473.2,89.6 L475.2,89.6 L477.2,89.6 L479.2,89.6 L481.2,89.6 L483.2,89.6 L485.2,89.6 L487.2,89.6 L489.2,89.6 L491.2,89.6 L493.2,89.6 L495.2,89.6 L497.2,89.6 L499.2,89.6 L501.2,89.6 L503.2,89.6 L505.2,89.6 L507.2,89.6 L509.2,89.6 L511.2,89.6 L513.2,89.6 L515.2,89.6 L517.2,89.6 L519.2,89.6 L521.2,89.6 L523.2,89.6 L525.2,89.6 L527.2,89.6 L529.2,89.6 L531.2,89.6 L533.2,89.6 L535.2,89.6 L537.2,89.6 L539.2,89.6 L541.2,89.6 L543.2,89.6 L545.2,89.6 L547.2,89.6 L549.2,89.6 L551.2,89.6 L553.2,89.6 L555.2,89.6 L557.2,89.6 L559.2,89.6 L561.2,89.6 L563.2,89.6 L565.2,89.6 L567.2,89.6 L569.2,89.6 L571.2,89.6 L573.2,89.6 L575.2,89.6 L577.2,89.6 L579.2,89.6 L581.2,89.6 L583.2,89.6 L585.2,89.6 L587.2,89.6 L589.2,89.6 L591.2,89.6 L593.2,89.6 L595.2,89.6 L597.2,89.6 L599.2,89.6 L601.2,89.5 L603.2,89.5 L605.2,89.5 L607.2,89.5 L609.2,89.5 L611.2,89.5 L613.2,89.4 L615.2,89.4 L617.2,89.4 L619.2,89.4 L621.2,89.3 L623.2,89.3 L625.2,89.3 L627.2,89.2 L629.2,89.2 L631.2,89.1 L633.1,89.0 L635.0,88.8 L636.8,88.3 L638.3,87.4 L639.5,86.2 L640.6,84.7 L641.6,83.1 L642.7,81.6 L644.0,80.4 L645.5,79.6 L647.3,79.2 L649.2,79.1 L651.2,79.0 L653.2,79.0 L655.2,79.0 L657.2,79.0 L659.2,79.0 L661.2,79.0 L663.2,79.0 L665.2,79.0 L667.2,79.0 L669.2,79.0 L671.2,79.0 L673.2,79.0 L675.2,79.0 L677.2,79.0 L679.2,79.0 L681.2,79.0 L683.2,79.0 L685.2,79.0 L687.2,79.0 L689.2,79.0 L691.2,79.0 L693.2,79.0 L695.2,79.0 L697.2,79.0 L699.2,79.0 L701.2,79.0 L703.2,79.0 L705.2,79.0 L707.2,79.0 L709.2,79.0 L711.2,79.0 L713.2,79.0 L715.2,79.0 L717.2,79.0 L719.2,79.0 L721.2,79.0 L723.2,79.0 L725.2,79.0 L727.2,79.0 L729.2,79.0 L731.2,79.0 L733.2,79.0 L735.2,79.0 L737.2,79.0 L739.2,79.0 L741.2,79.0 L743.2,79.0 L745.2,79.0 L747.2,79.0 L749.2,79.0 L751.2,79.0 L753.2,79.0 L755.2,79.0 L757.2,79.0 L759.2,79.0 L761.2,79.0 L763.2,79.0 L765.2,79.0 L767.2,79.0 L769.2,79.0 L771.2,79.0 L773.2,79.1 L775.2,79.1 L777.2,79.1 L779.2,79.1 L781.2,79.1 L783.2,79.1 L785.2,79.1 L787.2,79.1 L789.2,79.1 L791.2,79.1 L793.2,79.1 L795.2,79.2 L797.2,79.2 L799.2,79.2 L801.2,79.2 L803.2,79.2 L805.2,79.2 L807.2,79.2 L809.2,79.3 L811.2,79.3 L813.2,79.3 L815.2,79.3 L817.2,79.3 L819.2,79.4 L821.2,79.4 L823.2,79.4 L825.2,79.4 L827.2,79.5 L829.2,79.5 L831.2,79.5 L833.2,79.5 L835.2,79.6 L837.2,79.6 L839.2,79.6 L841.2,79.7 L843.2,79.7 L845.1,79.8 L847.1,80.0 L849.0,80.4 L850.8,81.0 L852.6,81.6 L854.5,82.2 L856.4,82.7 L858.3,83.0 L860.3,83.1 L862.3,83.1 L864.3,83.2 L866.3,83.2 L868.3,83.2 L870.3,83.2 L872.3,83.3 L874.3,83.3 L876.3,83.3 L878.3,83.3 L880.3,83.3 L882.3,83.3 L884.3,83.3 L886.3,83.3 L888.3,83.3 L890.3,83.4 L892.3,83.4 L894.3,83.4 L896.3,83.4 L898.3,83.4 L900.3,83.5 L902.3,83.5 L904.3,83.6 L906.3,83.7 L908.3,83.7 L910.2,83.8 L912.2,84.0 L914.2,84.1 L916.2,84.3 L918.2,84.4 L920.2,84.6 L922.2,84.8 L924.2,85.1 L926.2,85.3 L928.1,85.7 L930.1,86.1 L932.0,86.6 L933.9,87.2 L935.8,87.8 L937.7,88.4 L939.6,89.0 L941.6,89.5 L943.5,90.0 L945.4,90.5 L947.4,91.0 L949.3,91.4 L951.3,91.8 L953.2,92.3 L955.2,92.7 L957.1,93.2 L959.1,93.7 L961.0,94.1 L963.0,94.6 L964.9,95.1 L966.8,95.6 L968.8,96.1 L970.7,96.6 L972.6,97.1 L974.6,97.6 L976.5,98.2 L978.4,98.8 L980.3,99.5 L982.1,100.2 L984.0,100.9 L985.8,101.7 L987.7,102.5 L989.5,103.4 L991.3,104.3 L993.0,105.2 L994.8,106.2 L996.5,107.2 L998.2,108.2 L1000.0,109.2 L1001.7,110.2 L1003.4,111.2 L1005.1,112.2 L1006.8,113.3 L1008.5,114.4 L1010.1,115.6 L1011.7,116.8 L1013.3,118.0 L1014.8,119.3 L1016.4,120.5 L1018.0,121.7 L1019.5,123.0 L1021.1,124.2 L1022.7,125.4 L1024.3,126.6 L1025.9,127.8 L1027.5,129.0 L1029.1,130.2 L1030.7,131.4 L1032.3,132.6 L1033.8,133.9 L1035.4,135.2 L1036.9,136.5 L1038.3,137.9 L1039.8,139.3 L1041.2,140.7 L1042.6,142.1 L1043.9,143.6 L1045.2,145.1 L1046.5,146.7 L1047.7,148.2 L1048.9,149.8 L1050.1,151.4 L1051.3,153.1 L1052.5,154.7 L1053.7,156.3 L1054.9,157.9 L1056.1,159.4 L1057.3,161.0 L1058.5,162.6 L1059.7,164.2 L1060.9,165.8 L1062.0,167.5 L1063.0,169.2 L1064.0,170.9 L1065.0,172.7 L1065.9,174.5 L1066.8,176.3 L1067.6,178.1 L1068.5,179.9 L1069.4,181.7 L1070.2,183.5 L1071.1,185.3 L1071.9,187.1 L1072.7,188.9 L1073.5,190.8 L1074.3,192.6 L1075.2,194.4 L1076.0,196.3 L1076.7,198.1 L1077.5,199.9 L1078.3,201.8 L1079.1,203.6 L1079.8,205.5 L1080.6,207.3 L1081.2,209.2 L1081.9,211.1 L1082.4,213.0 L1083.0,214.9 L1083.5,216.9 L1084.0,218.8 L1084.4,220.8 L1084.9,222.7 L1085.3,224.7 L1085.7,226.6 L1086.1,228.6 L1086.5,230.5 L1086.9,232.5 L1087.3,234.5 L1087.7,236.4 L1088.1,238.4 L1088.5,240.4 L1088.9,242.3 L1089.3,244.3 L1089.7,246.2 L1090.0,248.2 L1090.4,250.2 L1090.8,252.1 L1091.2,254.1 L1091.6,256.0 L1092.0,258.0 L1092.4,260.0 L1092.8,261.9 L1093.2,263.9 L1093.6,265.9 L1093.9,267.8 L1094.3,269.8 L1094.7,271.7 L1095.1,273.7 L1095.5,275.7 L1095.8,277.6 L1096.2,279.6 L1096.6,281.6 L1097.0,283.5 L1097.4,285.5 L1097.8,287.4 L1098.1,289.4 L1098.5,291.4 L1098.9,293.3 L1099.3,295.3 L1099.7,297.3 L1100.0,299.2 L1100.4,301.2 L1100.8,303.2 L1101.2,305.1 L1101.5,307.1 L1101.9,309.0 L1102.3,311.0 L1102.7,313.0 L1103.1,314.9 L1103.5,316.9 L1103.9,318.9 L1104.3,320.8 L1104.7,322.8 L1105.2,324.7 L1105.6,326.7 L1106.1,328.6 L1106.5,330.6 L1107.0,332.5 L1107.5,334.4 L1107.9,336.4 L1108.4,338.3 L1108.9,340.3 L1109.3,342.2 L1109.8,344.2 L1110.3,346.1 L1110.8,348.1 L1111.2,350.0 L1111.7,351.9 L1112.2,353.9 L1112.6,355.8 L1113.1,357.8 L1113.5,359.7 L1113.9,361.7 L1114.3,363.7 L1114.7,365.6 L1115.0,367.6 L1115.4,369.5 L1115.8,371.5 L1116.2,373.5 L1116.6,375.4 L1117.0,377.4 L1117.5,379.3 L1118.0,381.3 L1118.5,383.2 L1119.1,385.1 L1119.6,387.0 L1120.1,389.0 L1120.7,390.9 L1121.2,392.8 L1121.7,394.8 L1122.1,396.7 L1122.6,398.7 L1123.0,400.6 L1123.4,402.6 L1123.8,404.5 L1124.2,406.5 L1124.5,408.5 L1124.9,410.4 L1125.2,412.4 L1125.6,414.4 L1125.9,416.4 L1126.2,418.3 L1126.5,420.3 L1126.7,422.3 L1127.0,424.3 L1127.3,426.3 L1127.5,428.2 L1127.8,430.2 L1128.0,432.2 L1128.2,434.2 L1128.5,436.2 L1128.7,438.2 L1128.9,440.2 L1129.1,442.2 L1129.3,444.1 L1129.5,446.1 L1129.7,448.1 L1130.0,450.1 L1130.2,452.1 L1130.5,454.1 L1130.7,456.1 L1131.0,458.0 L1131.3,460.0 L1131.5,462.0 L1131.8,464.0 L1132.1,466.0 L1132.3,467.9 L1132.6,469.9 L1132.9,471.9 L1133.2,473.9 L1133.4,475.9 L1133.7,477.9 L1134.0,479.8 L1134.2,481.8 L1134.5,483.8 L1134.7,485.8 L1135.0,487.8 L1135.2,489.8 L1135.5,491.7 L1135.7,493.7 L1135.9,495.7 L1136.1,497.7 L1136.3,499.7 L1136.5,501.7 L1136.7,503.7 L1136.9,505.7 L1137.1,507.7 L1137.3,509.6 L1137.5,511.6 L1137.7,513.6 L1137.9,515.6 L1138.1,517.6 L1138.4,519.6 L1138.6,521.6 L1138.9,523.6 L1139.1,525.5 L1139.4,527.5 L1139.7,529.5 L1140.0,531.5 L1140.2,533.5 L1140.5,535.4 L1140.7,537.4 L1141.0,539.4 L1141.2,541.4 L1141.4,543.4 L1141.6,545.4 L1141.8,547.4 L1142.0,549.4 L1142.1,551.4 L1142.3,553.4 L1142.5,555.3 L1142.6,557.3 L1142.8,559.3 L1142.9,561.3 L1143.1,563.3 L1143.2,565.3 L1143.4,567.3 L1143.5,569.3 L1143.7,571.3 L1143.8,573.3 L1143.9,575.3 L1144.0,577.3 L1144.2,579.3 L1144.3,581.3 L1144.4,583.3 L1144.5,585.3 L1144.6,587.3 L1144.7,589.3 L1144.8,591.3 L1145.0,593.3 L1145.1,595.3 L1145.2,597.3 L1145.3,599.3 L1145.5,601.2 L1145.6,603.2 L1145.7,605.2 L1145.9,607.2 L1146.0,609.2 L1146.2,611.2 L1146.4,613.2 L1146.5,615.2 L1146.7,617.2 L1146.9,619.2 L1147.0,621.2 L1147.2,623.2 L1147.4,625.2 L1147.6,627.2 L1147.7,629.2 L1147.9,631.1 L1148.1,633.1 L1148.3,635.1 L1148.5,637.1 L1148.7,639.1 L1148.9,641.1 L1149.1,643.1 L1149.2,645.1 L1149.4,647.1 L1149.6,649.1 L1149.8,651.1 L1150.0,653.1 L1150.1,655.0 L1150.3,657.0 L1150.5,659.0 L1150.6,661.0 L1150.8,663.0 L1150.9,665.0 L1151.1,667.0 L1151.3,669.0 L1151.4,671.0 L1151.6,673.0 L1151.7,675.0 L1151.9,677.0 L1152.0,679.0 L1152.2,681.0 L1152.4,683.0 L1152.5,684.9 L1152.7,686.9 L1152.8,688.9 L1153.0,690.9 L1153.1,692.9 L1153.2,694.9 L1153.4,696.9 L1153.5,698.9 L1153.6,700.9 L1153.7,702.9 L1153.9,704.9 L1154.0,706.9 L1154.1,708.9 L1154.2,710.9 L1154.3,712.9 L1154.4,714.9 L1154.5,716.9 L1154.6,718.9 L1154.7,720.9 L1154.8,722.9 L1154.9,724.9 L1154.9,726.9 L1155.0,728.9 L1155.1,730.9 L1155.1,732.9 L1155.2,734.9 L1155.3,736.9 L1155.3,738.9 L1155.4,740.9 L1155.4,742.9 L1155.5,744.9 L1155.5,746.9 L1155.6,748.9 L1155.7,750.9 L1155.7,752.9 L1155.8,754.9 L1155.8,756.9 L1155.9,758.9 L1156.0,760.9 L1156.0,762.9 L1156.1,764.9 L1156.2,766.9 L1156.2,768.9 L1156.3,770.9 L1156.4,772.9 L1156.5,774.8 L1156.6,776.8 L1156.7,778.8 L1156.8,780.8 L1156.9,782.8 L1157.0,784.8 L1157.1,786.8 L1157.2,788.8 L1157.3,790.8 L1157.4,792.8 L1157.5,794.8 L1157.7,796.8 L1157.8,798.8 L1157.9,800.8 L1158.0,802.8 L1158.2,804.8 L1158.3,806.8 L1158.4,808.8 L1158.6,810.8 L1158.7,812.8 L1158.8,814.8 L1159.0,816.8 L1159.1,818.8 L1159.3,820.8 L1159.4,822.8 L1159.6,824.8 L1159.7,826.7 L1159.8,828.7 L1160.0,830.7 L1160.1,832.7 L1160.3,834.7 L1160.4,836.7 L1160.5,838.7 L1160.7,840.7 L1160.8,842.7 L1160.9,844.7 L1161.1,846.7 L1161.2,848.7 L1161.3,850.7 L1161.5,852.7 L1161.6,854.7 L1161.7,856.7 L1161.9,858.7 L1162.0,860.7 L1162.1,862.7 L1162.2,864.7 L1162.4,866.7 L1162.5,868.7 L1162.6,870.7 L1162.8,872.6 L1162.9,874.6 L1163.0,876.6 L1163.2,878.6 L1163.3,880.6 L1163.4,882.6 L1163.6,884.6 L1163.7,886.6 L1163.8,888.6 L1164.0,890.6 L1164.1,892.6 L1164.2,894.6 L1164.4,896.6 L1164.5,898.6 L1164.6,900.6 L1164.8,902.6 L1164.9,904.6 L1165.0,906.6 L1165.2,908.6 L1165.3,910.6 L1165.4,912.6 L1165.5,914.6 L1165.7,916.5 L1165.8,918.5 L1165.9,920.5 L1166.1,922.5 L1166.2,924.5 L1166.3,926.5 L1166.5,928.5 L1166.6,930.5 L1166.7,932.5 L1166.9,934.5 L1167.0,936.5 L1167.1,938.5 L1167.3,940.5 L1167.4,942.5 L1167.5,944.5 L1167.7,946.5 L1167.8,948.5 L1167.9,950.5 L1168.0,952.5 L1168.2,954.5 L1168.3,956.5 L1168.4,958.5 L1168.6,960.5 L1168.7,962.4 L1168.9,964.4 L1169.0,966.4 L1169.2,968.4 L1169.3,970.4 L1169.4,972.4 L1169.6,974.4 L1169.7,976.4 L1169.9,978.4 L1170.0,980.4 L1170.1,982.4 L1170.2,984.4 L1170.4,986.4 L1170.5,988.4 L1170.6,990.4 L1170.7,992.4 L1170.8,994.4 L1170.9,996.4 L1171.0,998.4 L1171.1,1000.4 L1171.2,1002.4 L1171.2,1004.4 L1171.3,1006.4 L1171.4,1008.4 L1171.4,1010.4 L1171.5,1012.4 L1171.5,1014.4 L1171.6,1016.4 L1171.7,1018.4 L1171.7,1020.4 L1171.8,1022.4 L1171.8,1024.4 L1171.9,1026.4 L1171.9,1028.4 L1172.0,1030.4 L1172.0,1032.4 L1172.1,1034.4 L1172.2,1036.4 L1172.2,1038.4 L1172.3,1040.4 L1172.3,1042.4 L1172.4,1044.4 L1172.5,1046.4 L1172.5,1048.4 L1172.6,1050.4 L1172.7,1052.3 L1172.8,1054.3 L1172.9,1056.3 L1173.0,1058.3 L1173.1,1060.3 L1173.2,1062.3 L1173.4,1064.3 L1173.5,1066.3 L1173.6,1068.3 L1173.7,1070.3 L1173.9,1072.3 L1174.0,1074.3 L1174.2,1076.3 L1174.3,1078.3 L1174.5,1080.3 L1174.6,1082.3 L1174.8,1084.3 L1175.0,1086.3 L1175.1,1088.3 L1175.3,1090.3 L1175.5,1092.2 L1175.7,1094.2 L1176.0,1096.2 L1176.2,1098.2 L1176.4,1100.2 L1176.7,1102.2 L1176.9,1104.2 L1177.2,1106.1 L1177.5,1108.1 L1177.8,1110.1 L1178.1,1112.1 L1178.4,1114.1 L1178.7,1116.0 L1179.0,1118.0 L1179.4,1120.0 L1179.8,1121.9 L1180.2,1123.9 L1180.6,1125.8 L1181.1,1127.8 L1181.6,1129.7 L1182.2,1131.6 L1182.8,1133.5 L1183.5,1135.4 L1184.2,1137.3 L1185.0,1139.1 L1185.8,1140.9 L1186.7,1142.7 L1187.7,1144.4 L1188.8,1146.1 L1190.0,1147.7 L1191.3,1149.2 L1192.7,1150.6 L1194.2,1151.8 L1195.8,1153.1 L1197.4,1154.2 L1199.1,1155.2 L1200.9,1156.1 L1202.7,1157.0 L1204.5,1157.8 L1206.4,1158.5 L1208.3,1159.2 L1210.2,1159.8 L1212.1,1160.3 L1214.0,1160.8 L1216.0,1161.3 L1217.9,1161.8 L1219.9,1162.2 L1221.8,1162.7 L1223.8,1163.1 L1225.7,1163.5 L1227.7,1163.8 L1229.7,1164.2 L1231.6,1164.6 L1233.6,1164.9 L1235.6,1165.3 L1237.6,1165.6 L1239.5,1165.9 L1241.5,1166.3 L1243.5,1166.6 L1245.5,1166.9 L1247.4,1167.2 L1249.4,1167.5 L1251.4,1167.8 L1253.4,1168.1 L1255.3,1168.4 L1257.3,1168.7 L1259.3,1169.0 L1261.3,1169.3 L1263.2,1169.6 L1265.2,1169.9 L1267.2,1170.2 L1269.2,1170.5 L1271.2,1170.8 L1273.1,1171.1 L1275.1,1171.4 L1277.1,1171.7 L1279.1,1172.0 L1281.0,1172.3 L1283.0,1172.7 L1285.0,1173.0 L1287.0,1173.3 L1288.9,1173.7 L1290.9,1174.0 L1292.9,1174.3 L1294.8,1174.7 L1296.8,1175.0 L1298.8,1175.4 L1300.7,1175.8 L1302.7,1176.1 L1304.7,1176.5 L1306.6,1176.9 L1308.6,1177.4 L1310.5,1177.8 L1312.5,1178.2 L1314.4,1178.7 L1316.4,1179.1 L1318.3,1179.6 L1320.3,1180.1 L1322.2,1180.6 L1324.1,1181.1 L1326.1,1181.6 L1328.0,1182.1 L1329.9,1182.7 L1331.8,1183.2 L1333.8,1183.8 L1335.7,1184.4 L1337.6,1185.0 L1339.5,1185.6 L1341.4,1186.2 L1343.3,1186.9 L1345.2,1187.5 L1347.0,1188.2 L1348.9,1188.9 L1350.8,1189.6 L1352.7,1190.3 L1354.5,1191.0 L1356.4,1191.7 L1358.3,1192.4 L1360.2,1193.1 L1362.0,1193.8 L1363.9,1194.5 L1365.8,1195.2 L1367.7,1195.9 L1369.5,1196.6 L1371.4,1197.3 L1373.3,1198.0 L1375.1,1198.8 L1377.0,1199.5 L1378.8,1200.3 L1380.7,1201.1 L1382.5,1201.9 L1384.3,1202.7 L1386.1,1203.5 L1387.9,1204.4 L1389.7,1205.2 L1391.5,1206.2 L1393.3,1207.1 L1395.1,1208.0 L1396.8,1209.0 L1398.6,1210.0 L1400.3,1211.0 L1402.0,1211.9 L1403.8,1212.9 L1405.5,1213.9 L1407.2,1215.0 L1409.0,1216.0 L1410.7,1217.0 L1412.4,1218.0 L1414.1,1219.0 L1415.9,1220.0 L1417.6,1221.0 L1419.3,1222.0 L1421.0,1223.0 L1422.8,1224.0 L1424.5,1225.1 L1426.2,1226.1 L1427.9,1227.1 L1429.6,1228.2 L1431.3,1229.2 L1433.0,1230.3 L1434.7,1231.3 L1436.4,1232.4 L1438.1,1233.4 L1439.8,1234.5 L1441.5,1235.6 L1443.2,1236.7 L1444.9,1237.7 L1446.5,1238.8 L1448.2,1239.9 L1449.9,1241.0 L1451.5,1242.1 L1453.2,1243.2 L1454.9,1244.3 L1456.6,1245.4 L1458.2,1246.5 L1459.9,1247.6 L1461.6,1248.7 L1463.3,1249.8 L1465.0,1250.8 L1466.7,1251.9 L1468.3,1253.0 L1470.0,1254.0 L1471.7,1255.1 L1473.4,1256.2 L1475.1,1257.2 L1476.8,1258.3 L1478.5,1259.3 L1480.2,1260.4 L1482.0,1261.4 L1483.7,1262.4 L1485.4,1263.4 L1487.2,1264.4 L1488.9,1265.3 L1490.7,1266.3 L1492.4,1267.3 L1494.2,1268.2 L1495.9,1269.2 L1497.7,1270.1 L1499.4,1271.1 L1501.2,1272.1 L1502.9,1273.0 L1504.7,1274.0 L1506.5,1274.8 L1508.3,1275.7 L1510.2,1276.4 L1512.0,1277.1 L1513.9,1277.7 L1515.9,1278.2 L1517.8,1278.5 L1519.8,1278.8 L1521.8,1279.0 L1523.8,1279.2 L1525.8,1279.4 L1527.8,1279.5 L1529.8,1279.7 L1531.8,1279.8 L1533.8,1279.9 L1535.7,1280.0 L1537.7,1280.2 L1539.7,1280.3 L1541.7,1280.3 L1543.7,1280.4 L1545.7,1280.5 L1547.7,1280.6 L1549.7,1280.7 L1551.7,1280.7 L1553.7,1280.8 L1555.7,1280.9 L1557.7,1280.9 L1559.7,1281.0 L1561.7,1281.1 L1563.7,1281.1 L1565.7,1281.2 L1567.7,1281.2 L1569.7,1281.3 L1571.7,1281.3 L1573.7,1281.4 L1575.7,1281.4 L1577.7,1281.5 L1579.7,1281.5 L1581.7,1281.6 L1583.7,1281.6 L1585.7,1281.7 L1587.7,1281.7 L1589.7,1281.8 L1591.7,1281.8 L1593.7,1281.9 L1595.7,1281.9 L1597.7,1281.9 L1599.7,1282.0 L1601.7,1282.0 L1603.7,1282.1 L1605.7,1282.1 L1607.7,1282.1 L1609.7,1282.2 L1611.7,1282.2 L1613.7,1282.2 L1615.7,1282.3 L1617.7,1282.3 L1619.7,1282.3 L1621.7,1282.4 L1623.7,1282.4 L1625.7,1282.4 L1627.7,1282.5 L1629.7,1282.5 L1631.7,1282.5 L1633.7,1282.5 L1635.7,1282.6 L1637.7,1282.6 L1639.7,1282.6 L1641.7,1282.7 L1643.7,1282.7 L1645.7,1282.7 L1647.7,1282.7 L1649.7,1282.8 L1651.7,1282.8 L1653.7,1282.8 L1655.7,1282.9 L1657.7,1282.9 L1659.7,1282.9 L1661.7,1283.0 L1663.7,1283.0 L1665.7,1283.0 L1667.7,1283.0 L1669.7,1283.1 L1671.7,1283.1 L1673.7,1283.1 L1675.7,1283.2 L1677.7,1283.2 L1679.7,1283.2 L1681.7,1283.3 L1683.7,1283.3 L1685.7,1283.4 L1687.7,1283.4 L1689.7,1283.4 L1691.7,1283.5 L1693.7,1283.5 L1695.7,1283.6 L1697.7,1283.6 L1699.7,1283.6 L1701.7,1283.7 L1703.7,1283.7 L1705.7,1283.8 L1707.7,1283.8 L1709.7,1283.9 L1711.7,1283.9 L1713.7,1284.0 L1715.7,1284.0 L1717.7,1284.1 L1719.7,1284.2 L1721.7,1284.2 L1723.7,1284.3 L1725.7,1284.3 L1727.7,1284.4 L1729.7,1284.5 L1731.7,1284.5 L1733.7,1284.6 L1735.7,1284.7 L1737.7,1284.7 L1739.7,1284.8 L1741.7,1284.9 L1743.7,1285.0 L1745.7,1285.1 L1747.7,1285.1 L1749.7,1285.2 L1751.7,1285.3 L1753.7,1285.4 L1755.7,1285.5 L1757.7,1285.5 L1759.7,1285.6 L1761.7,1285.7 L1763.7,1285.8 L1765.7,1285.9 L1767.7,1286.0 L1769.7,1286.0 L1771.7,1286.1 L1773.7,1286.2 L1775.7,1286.3 L1777.7,1286.4 L1779.6,1286.5 L1781.6,1286.6 L1783.6,1286.7 L1785.6,1286.7 L1787.6,1286.8 L1789.6,1286.9 L1791.6,1287.0 L1793.6,1287.1 L1795.6,1287.2 L1797.6,1287.3 L1799.6,1287.4 L1801.6,1287.4 L1803.6,1287.5 L1805.6,1287.6 L1807.6,1287.7 L1809.6,1287.8 L1811.6,1287.9 L1813.6,1288.0 L1815.6,1288.1 L1817.6,1288.2 L1819.6,1288.2 L1821.6,1288.3 L1823.6,1288.4 L1825.6,1288.5 L1827.6,1288.6 L1829.6,1288.7 L1831.6,1288.8 L1833.6,1288.9 L1835.6,1289.0 L1837.6,1289.1 L1839.6,1289.2 L1841.6,1289.3 L1843.6,1289.4 L1845.6,1289.5 L1847.6,1289.6 L1849.6,1289.8 L1851.6,1289.9 L1853.6,1290.0 L1855.6,1290.1 L1857.6,1290.2 L1859.6,1290.3 L1861.6,1290.5 L1863.5,1290.6 L1865.5,1290.7 L1867.5,1290.8 L1869.5,1291.0 L1871.5,1291.1 L1873.5,1291.2 L1875.5,1291.4 L1877.5,1291.5 L1879.5,1291.7 L1881.5,1291.8 L1883.5,1292.0 L1885.5,1292.2 L1887.5,1292.3 L1889.5,1292.5 L1891.5,1292.7 L1893.5,1292.9 L1895.5,1293.1 L1897.4,1293.2 L1899.4,1293.4 L1901.4,1293.6 L1903.4,1293.8 L1905.4,1294.0 L1907.4,1294.2 L1909.4,1294.4 L1911.4,1294.7 L1913.4,1294.9 L1915.3,1295.1 L1917.3,1295.3 L1919.3,1295.6 L1921.3,1295.8 L1923.3,1296.1 L1925.3,1296.4 L1927.2,1296.6 L1929.2,1296.9 L1931.2,1297.2 L1933.2,1297.5 L1935.2,1297.8 L1937.1,1298.1 L1939.1,1298.4 L1941.1,1298.7 L1943.1,1299.0 L1945.1,1299.3 L1947.0,1299.6 L1949.0,1299.9 L1951.0,1300.2 L1953.0,1300.5 L1954.9,1300.8 L1956.9,1301.1 L1958.9,1301.5 L1960.9,1301.8 L1962.8,1302.1 L1964.8,1302.4 L1966.8,1302.7 L1968.8,1303.0 L1970.7,1303.4 L1972.7,1303.7 L1974.7,1304.0 L1976.7,1304.3 L1978.6,1304.6 L1980.6,1304.9 L1982.6,1305.2 L1984.6,1305.5 L1986.5,1305.8 L1988.5,1306.0 L1990.5,1306.3 L1992.5,1306.6 L1994.5,1306.9 L1996.5,1307.1 L1998.4,1307.4 L2000.4,1307.7 L2002.4,1307.9 L2004.4,1308.2 L2006.4,1308.4 L2008.4,1308.7 L2010.3,1308.9 L2012.3,1309.1 L2014.3,1309.4 L2016.3,1309.6 L2018.3,1309.9 L2020.3,1310.1 L2022.3,1310.3 L2024.2,1310.6 L2026.2,1310.8 L2028.2,1311.0 L2030.2,1311.3 L2032.2,1311.5 L2034.2,1311.8 L2036.2,1312.0 L2038.1,1312.2 L2040.1,1312.5 L2042.1,1312.7 L2044.1,1313.0 L2046.1,1313.2 L2048.1,1313.5 L2050.1,1313.7 L2052.0,1314.0 L2054.0,1314.2 L2056.0,1314.5 L2058.0,1314.7 L2060.0,1315.0 L2061.9,1315.3 L2063.9,1315.6 L2065.9,1315.8 L2067.9,1316.1 L2069.9,1316.4 L2071.8,1316.7 L2073.8,1317.0 L2075.8,1317.3 L2077.8,1317.6 L2079.7,1317.9 L2081.7,1318.3 L2083.7,1318.6 L2085.7,1318.9 L2087.6,1319.3 L2089.6,1319.6 L2091.6,1320.0 L2093.5,1320.4 L2095.5,1320.7 L2097.5,1321.1 L2099.4,1321.5 L2101.4,1321.9 L2103.3,1322.3 L2105.3,1322.7 L2107.3,1323.1 L2109.2,1323.6 L2111.2,1324.0 L2113.1,1324.4 L2115.1,1324.9 L2117.0,1325.3 L2119.0,1325.8 L2120.9,1326.2 L2122.9,1326.7 L2124.8,1327.2 L2126.7,1327.6 L2128.7,1328.1 L2130.6,1328.6 L2132.6,1329.1 L2134.5,1329.6 L2136.4,1330.0 L2138.4,1330.6 L2140.3,1331.1 L2142.2,1331.6 L2144.2,1332.1 L2146.1,1332.7 L2148.0,1333.2 L2149.9,1333.8 L2151.8,1334.4 L2153.8,1335.0 L2155.7,1335.6 L2157.6,1336.2 L2159.5,1336.8 L2161.4,1337.4 L2163.3,1338.0 L2165.2,1338.6 L2167.1,1339.2 L2169.0,1339.9 L2170.9,1340.5 L2172.8,1341.1 L2174.7,1341.7 L2176.6,1342.4 L2178.5,1343.0 L2180.4,1343.6 L2182.3,1344.2 L2184.1,1344.8 L2185.8,1345.3 L2187.1,1345.8 L2187.7,1345.9" fill="none" stroke="#950088" stroke-width="5.0" stroke-linejoin="round" stroke-linecap="butt"/>
<path d="M326.5,27.2 H2210.0" stroke="#000" stroke-width="3.8"/>
<path d="M328.4,25.3 V1404.4" stroke="#000" stroke-width="3.6"/>
<path d="M2210.0,25.3 V1433.4" stroke="#000" stroke-width="5"/>
<path d="M326.6,1404.4 H2212.5" stroke="#000" stroke-width="6"/>
<path d="M389.2,1404.4 V1420.4" stroke="#000" stroke-width="6.0"/>
<path d="M510.5,1404.4 V1433.4" stroke="#000" stroke-width="3.0"/>
<path d="M631.8,1404.4 V1420.4" stroke="#000" stroke-width="6.0"/>
<path d="M753.2,1404.4 V1433.4" stroke="#000" stroke-width="3.0"/>
<path d="M874.5,1404.4 V1420.4" stroke="#000" stroke-width="6.0"/>
<path d="M995.8,1404.4 V1433.4" stroke="#000" stroke-width="6.0"/>
<path d="M1117.2,1404.4 V1420.4" stroke="#000" stroke-width="3.5"/>
<path d="M1238.5,1404.4 V1433.4" stroke="#000" stroke-width="6.5"/>
<path d="M1359.8,1404.4 V1420.4" stroke="#000" stroke-width="3.5"/>
<path d="M1481.2,1404.4 V1433.4" stroke="#000" stroke-width="5.0"/>
<path d="M1602.5,1404.4 V1420.4" stroke="#000" stroke-width="6.0"/>
<path d="M1723.8,1404.4 V1433.4" stroke="#000" stroke-width="3.0"/>
<path d="M1845.2,1404.4 V1420.4" stroke="#000" stroke-width="6.0"/>
<path d="M1966.5,1404.4 V1433.4" stroke="#000" stroke-width="4.0"/>
<path d="M2087.9,1404.4 V1420.4" stroke="#000" stroke-width="6.0"/>
<path d="M297.4,1341.4 H328.4" stroke="#000" stroke-width="2.6"/>
<path d="M313.4,1216.2 H328.4" stroke="#000" stroke-width="5.0"/>
<path d="M297.4,1091.1 H328.4" stroke="#000" stroke-width="2.6"/>
<path d="M313.4,966.0 H328.4" stroke="#000" stroke-width="5.0"/>
<path d="M297.4,840.8 H328.4" stroke="#000" stroke-width="2.6"/>
<path d="M313.4,715.7 H328.4" stroke="#000" stroke-width="5.0"/>
<path d="M297.4,590.5 H328.4" stroke="#000" stroke-width="5.0"/>
<path d="M313.4,465.4 H328.4" stroke="#000" stroke-width="2.6"/>
<path d="M297.4,340.2 H328.4" stroke="#000" stroke-width="5.0"/>
<path d="M313.4,215.0 H328.4" stroke="#000" stroke-width="2.6"/>
<path d="M297.4,89.9 H328.4" stroke="#000" stroke-width="5.0"/>
<text transform="translate(511.5,1494.8) scale(1,1.08)" text-anchor="middle" font-size="55.5" font-family="'Liberation Sans', Arial, sans-serif">100</text>
<text transform="translate(754.2,1494.8) scale(1,1.08)" text-anchor="middle" font-size="55.5" font-family="'Liberation Sans', Arial, sans-serif">200</text>
<text transform="translate(996.8,1494.8) scale(1,1.08)" text-anchor="middle" font-size="55.5" font-family="'Liberation Sans', Arial, sans-serif">300</text>
<text transform="translate(1239.5,1494.8) scale(1,1.08)" text-anchor="middle" font-size="55.5" font-family="'Liberation Sans', Arial, sans-serif">400</text>
<text transform="translate(1482.2,1494.8) scale(1,1.08)" text-anchor="middle" font-size="55.5" font-family="'Liberation Sans', Arial, sans-serif">500</text>
<text transform="translate(1724.8,1494.8) scale(1,1.08)" text-anchor="middle" font-size="55.5" font-family="'Liberation Sans', Arial, sans-serif">600</text>
<text transform="translate(1967.5,1494.8) scale(1,1.08)" text-anchor="middle" font-size="55.5" font-family="'Liberation Sans', Arial, sans-serif">700</text>
<text transform="translate(2210.2,1494.8) scale(1,1.08)" text-anchor="middle" font-size="55.5" font-family="'Liberation Sans', Arial, sans-serif">800</text>
<text transform="translate(280.5,1354.7) scale(1,1.05)" text-anchor="end" font-size="53.5" font-family="'Liberation Sans', Arial, sans-serif">0</text>
<text transform="translate(280.5,1104.4) scale(1,1.05)" text-anchor="end" font-size="53.5" font-family="'Liberation Sans', Arial, sans-serif">20</text>
<text transform="translate(280.5,854.1) scale(1,1.05)" text-anchor="end" font-size="53.5" font-family="'Liberation Sans', Arial, sans-serif">40</text>
<text transform="translate(280.5,603.8) scale(1,1.05)" text-anchor="end" font-size="53.5" font-family="'Liberation Sans', Arial, sans-serif">60</text>
<text transform="translate(280.5,353.5) scale(1,1.05)" text-anchor="end" font-size="53.5" font-family="'Liberation Sans', Arial, sans-serif">80</text>
<text transform="translate(280.5,103.2) scale(1,1.05)" text-anchor="end" font-size="53.5" font-family="'Liberation Sans', Arial, sans-serif">100</text>
<text x="1004.5" y="1619" font-size="69" font-family="'Liberation Sans', Arial, sans-serif">Temperature (<tspan font-size="58" dy="-15">&#176;</tspan><tspan dy="15" dx="-4">C)</tspan></text>
<text transform="translate(83,975) rotate(-90)" x="0" y="0" font-size="69" font-family="'Liberation Sans', Arial, sans-serif">Mass loss (%)</text>
<text transform="translate(1331.0,382.4) scale(1,1.045)" font-size="68.5" font-family="'Liberation Sans', Arial, sans-serif">PCL/PLA/BIB</text><text transform="translate(1740.7,407.8) scale(1,1.03)" font-size="41.0" font-family="'Liberation Sans', Arial, sans-serif">comp</text>
<text transform="translate(1399.4,534.5) scale(1,1.045)" font-size="68.5" font-family="'Liberation Sans', Arial, sans-serif">PCL/PLA/DCP</text><text transform="translate(1843.8,560.0) scale(1,1.03)" font-size="41.0" font-family="'Liberation Sans', Arial, sans-serif">comp</text>
<text transform="translate(1409.1,732.6) scale(1,1.045)" font-size="68.5" font-family="'Liberation Sans', Arial, sans-serif">PCL/PLA/DCP</text>
<text transform="translate(1396.0,995.7) scale(1,1.045)" font-size="68.5" font-family="'Liberation Sans', Arial, sans-serif">PCL/PLA/BIB</text>
<text transform="translate(1542.2,1161.3) scale(1,1.045)" font-size="68.5" font-family="'Liberation Sans', Arial, sans-serif">PCL/PLA</text>
<path d="M1319.5,355.7 H1161.5" stroke="#808080" stroke-width="4.6"/><path d="M1124.5,355.7 L1163.5,345.7 L1163.5,365.7 Z" fill="#808080"/>
<path d="M1394.5,521.0 H1234.0" stroke="#808080" stroke-width="4.6"/><path d="M1197.0,521.0 L1236.0,511.0 L1236.0,531.0 Z" fill="#808080"/>
<path d="M1404.2,717.3 H1240.7" stroke="#808080" stroke-width="4.6"/><path d="M1203.7,717.3 L1242.7,707.3 L1242.7,727.3 Z" fill="#808080"/>
<path d="M1381.6,969.4 H1221.3" stroke="#808080" stroke-width="4.6"/><path d="M1184.3,969.4 L1223.3,959.4 L1223.3,979.4 Z" fill="#808080"/>
<path d="M1529.7,1147.0 L1412.0,1237.5" stroke="#808080" stroke-width="3.6"/>
<path d="M1382.7,1260.0 L1419.7,1244.2 L1407.5,1228.3 Z" fill="#808080"/>
</svg>
</body></html>
